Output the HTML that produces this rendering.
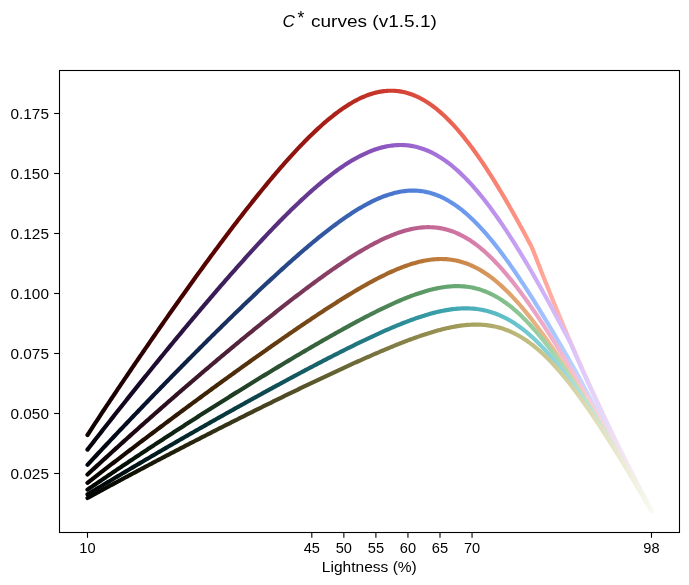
<!DOCTYPE html>
<html><head><meta charset="utf-8"><style>
html,body{margin:0;padding:0;background:#fff;}
body{width:689px;height:585px;overflow:hidden;}
svg{display:block;font-family:"Liberation Sans",sans-serif;}
text{-webkit-font-smoothing:antialiased;}
.gs{filter:grayscale(1);}
</style></head><body>
<svg width="689" height="585" viewBox="0 0 689 585">
<defs><linearGradient id="g0" gradientUnits="userSpaceOnUse" x1="87.50" y1="0" x2="651.49" y2="0"><stop offset="0.0000" stop-color="#0d0000"/><stop offset="0.0114" stop-color="#100000"/><stop offset="0.0227" stop-color="#140000"/><stop offset="0.0341" stop-color="#180000"/><stop offset="0.0455" stop-color="#1b0000"/><stop offset="0.0568" stop-color="#1f0000"/><stop offset="0.0682" stop-color="#230000"/><stop offset="0.0795" stop-color="#260000"/><stop offset="0.0909" stop-color="#2a0000"/><stop offset="0.1023" stop-color="#2e0000"/><stop offset="0.1136" stop-color="#320000"/><stop offset="0.1250" stop-color="#360101"/><stop offset="0.1364" stop-color="#3a0101"/><stop offset="0.1477" stop-color="#3e0101"/><stop offset="0.1591" stop-color="#420101"/><stop offset="0.1705" stop-color="#460201"/><stop offset="0.1818" stop-color="#4a0201"/><stop offset="0.1932" stop-color="#4f0202"/><stop offset="0.2045" stop-color="#530302"/><stop offset="0.2159" stop-color="#570302"/><stop offset="0.2273" stop-color="#5b0403"/><stop offset="0.2386" stop-color="#600503"/><stop offset="0.2500" stop-color="#640604"/><stop offset="0.2614" stop-color="#680704"/><stop offset="0.2727" stop-color="#6d0805"/><stop offset="0.2841" stop-color="#710906"/><stop offset="0.2955" stop-color="#750a07"/><stop offset="0.3068" stop-color="#7a0c08"/><stop offset="0.3182" stop-color="#7e0e09"/><stop offset="0.3295" stop-color="#830f0a"/><stop offset="0.3409" stop-color="#87110c"/><stop offset="0.3523" stop-color="#8b130d"/><stop offset="0.3636" stop-color="#90140e"/><stop offset="0.3750" stop-color="#941610"/><stop offset="0.3864" stop-color="#981812"/><stop offset="0.3977" stop-color="#9d1a13"/><stop offset="0.4091" stop-color="#a11d15"/><stop offset="0.4205" stop-color="#a61f17"/><stop offset="0.4318" stop-color="#aa2119"/><stop offset="0.4432" stop-color="#ae241b"/><stop offset="0.4545" stop-color="#b2261d"/><stop offset="0.4659" stop-color="#b6291f"/><stop offset="0.4773" stop-color="#ba2c22"/><stop offset="0.4886" stop-color="#be2f24"/><stop offset="0.5000" stop-color="#c23227"/><stop offset="0.5114" stop-color="#c6352a"/><stop offset="0.5227" stop-color="#ca382d"/><stop offset="0.5341" stop-color="#ce3c30"/><stop offset="0.5455" stop-color="#d13f33"/><stop offset="0.5568" stop-color="#d44336"/><stop offset="0.5682" stop-color="#d84739"/><stop offset="0.5795" stop-color="#db4b3d"/><stop offset="0.5909" stop-color="#de4f41"/><stop offset="0.6023" stop-color="#e15344"/><stop offset="0.6136" stop-color="#e45748"/><stop offset="0.6250" stop-color="#e65b4c"/><stop offset="0.6364" stop-color="#e96050"/><stop offset="0.6477" stop-color="#eb6455"/><stop offset="0.6591" stop-color="#ee6959"/><stop offset="0.6705" stop-color="#f06d5d"/><stop offset="0.6818" stop-color="#f27262"/><stop offset="0.6932" stop-color="#f47666"/><stop offset="0.7045" stop-color="#f57b6b"/><stop offset="0.7159" stop-color="#f78070"/><stop offset="0.7273" stop-color="#f88475"/><stop offset="0.7386" stop-color="#fa8979"/><stop offset="0.7500" stop-color="#fb8e7e"/><stop offset="0.7614" stop-color="#fc9283"/><stop offset="0.7727" stop-color="#fe9788"/><stop offset="0.7841" stop-color="#ff9c8d"/><stop offset="0.7955" stop-color="#ffa193"/><stop offset="0.8068" stop-color="#ffa699"/><stop offset="0.8182" stop-color="#ffab9e"/><stop offset="0.8295" stop-color="#ffb0a4"/><stop offset="0.8409" stop-color="#ffb5aa"/><stop offset="0.8523" stop-color="#ffbaaf"/><stop offset="0.8636" stop-color="#ffbfb5"/><stop offset="0.8750" stop-color="#ffc4ba"/><stop offset="0.8864" stop-color="#ffc8c0"/><stop offset="0.8977" stop-color="#ffcdc5"/><stop offset="0.9091" stop-color="#ffd2ca"/><stop offset="0.9205" stop-color="#ffd6d0"/><stop offset="0.9318" stop-color="#ffdbd5"/><stop offset="0.9432" stop-color="#ffe0da"/><stop offset="0.9545" stop-color="#ffe4e0"/><stop offset="0.9659" stop-color="#ffe9e5"/><stop offset="0.9773" stop-color="#ffedea"/><stop offset="0.9886" stop-color="#fff2ef"/><stop offset="1.0000" stop-color="#fff6f5"/></linearGradient><linearGradient id="g1" gradientUnits="userSpaceOnUse" x1="87.50" y1="0" x2="651.49" y2="0"><stop offset="0.0000" stop-color="#05010c"/><stop offset="0.0114" stop-color="#07020f"/><stop offset="0.0227" stop-color="#090212"/><stop offset="0.0341" stop-color="#0b0315"/><stop offset="0.0455" stop-color="#0e0419"/><stop offset="0.0568" stop-color="#10051c"/><stop offset="0.0682" stop-color="#130620"/><stop offset="0.0795" stop-color="#160723"/><stop offset="0.0909" stop-color="#180827"/><stop offset="0.1023" stop-color="#1b092b"/><stop offset="0.1136" stop-color="#1d0b2e"/><stop offset="0.1250" stop-color="#200d32"/><stop offset="0.1364" stop-color="#230e36"/><stop offset="0.1477" stop-color="#26103a"/><stop offset="0.1591" stop-color="#29123e"/><stop offset="0.1705" stop-color="#2b1341"/><stop offset="0.1818" stop-color="#2e1545"/><stop offset="0.1932" stop-color="#311749"/><stop offset="0.2045" stop-color="#34194d"/><stop offset="0.2159" stop-color="#371a51"/><stop offset="0.2273" stop-color="#3a1c55"/><stop offset="0.2386" stop-color="#3d1e59"/><stop offset="0.2500" stop-color="#40205d"/><stop offset="0.2614" stop-color="#432262"/><stop offset="0.2727" stop-color="#462466"/><stop offset="0.2841" stop-color="#49266a"/><stop offset="0.2955" stop-color="#4c286e"/><stop offset="0.3068" stop-color="#4f2a72"/><stop offset="0.3182" stop-color="#522c76"/><stop offset="0.3295" stop-color="#552e7a"/><stop offset="0.3409" stop-color="#58307f"/><stop offset="0.3523" stop-color="#5c3283"/><stop offset="0.3636" stop-color="#5f3487"/><stop offset="0.3750" stop-color="#62368b"/><stop offset="0.3864" stop-color="#65388f"/><stop offset="0.3977" stop-color="#683b93"/><stop offset="0.4091" stop-color="#6b3d98"/><stop offset="0.4205" stop-color="#6f3f9c"/><stop offset="0.4318" stop-color="#7242a0"/><stop offset="0.4432" stop-color="#7544a4"/><stop offset="0.4545" stop-color="#7846a8"/><stop offset="0.4659" stop-color="#7b49ac"/><stop offset="0.4773" stop-color="#7e4cb0"/><stop offset="0.4886" stop-color="#824eb4"/><stop offset="0.5000" stop-color="#8551b7"/><stop offset="0.5114" stop-color="#8854bb"/><stop offset="0.5227" stop-color="#8b56bf"/><stop offset="0.5341" stop-color="#8e59c2"/><stop offset="0.5455" stop-color="#915cc6"/><stop offset="0.5568" stop-color="#945fc9"/><stop offset="0.5682" stop-color="#9762cc"/><stop offset="0.5795" stop-color="#9a66cf"/><stop offset="0.5909" stop-color="#9d69d2"/><stop offset="0.6023" stop-color="#a06cd5"/><stop offset="0.6136" stop-color="#a36fd8"/><stop offset="0.6250" stop-color="#a673db"/><stop offset="0.6364" stop-color="#a976dd"/><stop offset="0.6477" stop-color="#ab7ae0"/><stop offset="0.6591" stop-color="#ae7ee2"/><stop offset="0.6705" stop-color="#b181e4"/><stop offset="0.6818" stop-color="#b485e6"/><stop offset="0.6932" stop-color="#b689e8"/><stop offset="0.7045" stop-color="#b98dea"/><stop offset="0.7159" stop-color="#bc91ec"/><stop offset="0.7273" stop-color="#be94ed"/><stop offset="0.7386" stop-color="#c198ef"/><stop offset="0.7500" stop-color="#c39cf0"/><stop offset="0.7614" stop-color="#c6a0f1"/><stop offset="0.7727" stop-color="#c8a4f3"/><stop offset="0.7841" stop-color="#cba8f4"/><stop offset="0.7955" stop-color="#cdacf5"/><stop offset="0.8068" stop-color="#d0b1f6"/><stop offset="0.8182" stop-color="#d2b5f7"/><stop offset="0.8295" stop-color="#d5b9f7"/><stop offset="0.8409" stop-color="#d7bdf8"/><stop offset="0.8523" stop-color="#dac1f9"/><stop offset="0.8636" stop-color="#dcc5f9"/><stop offset="0.8750" stop-color="#dfc9fa"/><stop offset="0.8864" stop-color="#e1cefa"/><stop offset="0.8977" stop-color="#e3d2fa"/><stop offset="0.9091" stop-color="#e6d6fa"/><stop offset="0.9205" stop-color="#e8dafb"/><stop offset="0.9318" stop-color="#ebdefb"/><stop offset="0.9432" stop-color="#ede2fb"/><stop offset="0.9545" stop-color="#f0e7fc"/><stop offset="0.9659" stop-color="#f2ebfc"/><stop offset="0.9773" stop-color="#f5effd"/><stop offset="0.9886" stop-color="#f7f3fd"/><stop offset="1.0000" stop-color="#faf7fe"/></linearGradient><linearGradient id="g2" gradientUnits="userSpaceOnUse" x1="87.50" y1="0" x2="651.49" y2="0"><stop offset="0.0000" stop-color="#01030c"/><stop offset="0.0114" stop-color="#01040f"/><stop offset="0.0227" stop-color="#020512"/><stop offset="0.0341" stop-color="#020716"/><stop offset="0.0455" stop-color="#020819"/><stop offset="0.0568" stop-color="#030a1d"/><stop offset="0.0682" stop-color="#040c21"/><stop offset="0.0795" stop-color="#040e24"/><stop offset="0.0909" stop-color="#051028"/><stop offset="0.1023" stop-color="#06132c"/><stop offset="0.1136" stop-color="#07152f"/><stop offset="0.1250" stop-color="#081733"/><stop offset="0.1364" stop-color="#0a1937"/><stop offset="0.1477" stop-color="#0b1b3b"/><stop offset="0.1591" stop-color="#0c1e3f"/><stop offset="0.1705" stop-color="#0e2043"/><stop offset="0.1818" stop-color="#0f2247"/><stop offset="0.1932" stop-color="#11254b"/><stop offset="0.2045" stop-color="#12274f"/><stop offset="0.2159" stop-color="#142953"/><stop offset="0.2273" stop-color="#152c57"/><stop offset="0.2386" stop-color="#172e5b"/><stop offset="0.2500" stop-color="#183160"/><stop offset="0.2614" stop-color="#1a3364"/><stop offset="0.2727" stop-color="#1b3668"/><stop offset="0.2841" stop-color="#1d386c"/><stop offset="0.2955" stop-color="#1e3b71"/><stop offset="0.3068" stop-color="#203d75"/><stop offset="0.3182" stop-color="#224079"/><stop offset="0.3295" stop-color="#23427d"/><stop offset="0.3409" stop-color="#254582"/><stop offset="0.3523" stop-color="#274786"/><stop offset="0.3636" stop-color="#294a8a"/><stop offset="0.3750" stop-color="#2a4d8f"/><stop offset="0.3864" stop-color="#2c4f93"/><stop offset="0.3977" stop-color="#2e5298"/><stop offset="0.4091" stop-color="#30559c"/><stop offset="0.4205" stop-color="#3258a0"/><stop offset="0.4318" stop-color="#345aa5"/><stop offset="0.4432" stop-color="#365da9"/><stop offset="0.4545" stop-color="#3860ad"/><stop offset="0.4659" stop-color="#3a63b1"/><stop offset="0.4773" stop-color="#3c66b6"/><stop offset="0.4886" stop-color="#3e69ba"/><stop offset="0.5000" stop-color="#406bbe"/><stop offset="0.5114" stop-color="#436ec2"/><stop offset="0.5227" stop-color="#4571c6"/><stop offset="0.5341" stop-color="#4774ca"/><stop offset="0.5455" stop-color="#4a77cd"/><stop offset="0.5568" stop-color="#4c7ad1"/><stop offset="0.5682" stop-color="#4f7dd5"/><stop offset="0.5795" stop-color="#5280d8"/><stop offset="0.5909" stop-color="#5584db"/><stop offset="0.6023" stop-color="#5887de"/><stop offset="0.6136" stop-color="#5b8ae1"/><stop offset="0.6250" stop-color="#5f8de4"/><stop offset="0.6364" stop-color="#6290e7"/><stop offset="0.6477" stop-color="#6593e9"/><stop offset="0.6591" stop-color="#6997ec"/><stop offset="0.6705" stop-color="#6d9aee"/><stop offset="0.6818" stop-color="#719df0"/><stop offset="0.6932" stop-color="#75a0f1"/><stop offset="0.7045" stop-color="#79a4f3"/><stop offset="0.7159" stop-color="#7da7f5"/><stop offset="0.7273" stop-color="#81aaf6"/><stop offset="0.7386" stop-color="#86aef7"/><stop offset="0.7500" stop-color="#8ab1f8"/><stop offset="0.7614" stop-color="#8eb4f9"/><stop offset="0.7727" stop-color="#93b8fa"/><stop offset="0.7841" stop-color="#98bbfb"/><stop offset="0.7955" stop-color="#9cbefc"/><stop offset="0.8068" stop-color="#a1c2fc"/><stop offset="0.8182" stop-color="#a6c5fd"/><stop offset="0.8295" stop-color="#aac8fe"/><stop offset="0.8409" stop-color="#afcbfe"/><stop offset="0.8523" stop-color="#b4cffe"/><stop offset="0.8636" stop-color="#b9d2ff"/><stop offset="0.8750" stop-color="#bed5ff"/><stop offset="0.8864" stop-color="#c3d8ff"/><stop offset="0.8977" stop-color="#c8dcff"/><stop offset="0.9091" stop-color="#cddfff"/><stop offset="0.9205" stop-color="#d2e2ff"/><stop offset="0.9318" stop-color="#d7e5ff"/><stop offset="0.9432" stop-color="#dce9ff"/><stop offset="0.9545" stop-color="#e1ecff"/><stop offset="0.9659" stop-color="#e6efff"/><stop offset="0.9773" stop-color="#ebf2ff"/><stop offset="0.9886" stop-color="#f0f5ff"/><stop offset="1.0000" stop-color="#f5f9ff"/></linearGradient><linearGradient id="g3" gradientUnits="userSpaceOnUse" x1="87.50" y1="0" x2="651.49" y2="0"><stop offset="0.0000" stop-color="#080104"/><stop offset="0.0114" stop-color="#0b0205"/><stop offset="0.0227" stop-color="#0d0207"/><stop offset="0.0341" stop-color="#100309"/><stop offset="0.0455" stop-color="#13040b"/><stop offset="0.0568" stop-color="#16050d"/><stop offset="0.0682" stop-color="#190610"/><stop offset="0.0795" stop-color="#1c0712"/><stop offset="0.0909" stop-color="#1f0814"/><stop offset="0.1023" stop-color="#220a17"/><stop offset="0.1136" stop-color="#260b19"/><stop offset="0.1250" stop-color="#290d1c"/><stop offset="0.1364" stop-color="#2c0f1e"/><stop offset="0.1477" stop-color="#2f1021"/><stop offset="0.1591" stop-color="#331223"/><stop offset="0.1705" stop-color="#361426"/><stop offset="0.1818" stop-color="#3a1628"/><stop offset="0.1932" stop-color="#3d172b"/><stop offset="0.2045" stop-color="#40192d"/><stop offset="0.2159" stop-color="#441b30"/><stop offset="0.2273" stop-color="#471d33"/><stop offset="0.2386" stop-color="#4b1e35"/><stop offset="0.2500" stop-color="#4e2038"/><stop offset="0.2614" stop-color="#52223b"/><stop offset="0.2727" stop-color="#56243e"/><stop offset="0.2841" stop-color="#592641"/><stop offset="0.2955" stop-color="#5d2843"/><stop offset="0.3068" stop-color="#612a46"/><stop offset="0.3182" stop-color="#642c49"/><stop offset="0.3295" stop-color="#682e4c"/><stop offset="0.3409" stop-color="#6c304f"/><stop offset="0.3523" stop-color="#6f3252"/><stop offset="0.3636" stop-color="#733454"/><stop offset="0.3750" stop-color="#773657"/><stop offset="0.3864" stop-color="#7b385a"/><stop offset="0.3977" stop-color="#7e3a5d"/><stop offset="0.4091" stop-color="#823c60"/><stop offset="0.4205" stop-color="#863e63"/><stop offset="0.4318" stop-color="#8a4166"/><stop offset="0.4432" stop-color="#8e4369"/><stop offset="0.4545" stop-color="#92456c"/><stop offset="0.4659" stop-color="#95476f"/><stop offset="0.4773" stop-color="#994a72"/><stop offset="0.4886" stop-color="#9d4c75"/><stop offset="0.5000" stop-color="#a14e78"/><stop offset="0.5114" stop-color="#a5517b"/><stop offset="0.5227" stop-color="#a8537e"/><stop offset="0.5341" stop-color="#ac5682"/><stop offset="0.5455" stop-color="#b05885"/><stop offset="0.5568" stop-color="#b35b88"/><stop offset="0.5682" stop-color="#b75e8b"/><stop offset="0.5795" stop-color="#ba608e"/><stop offset="0.5909" stop-color="#be6391"/><stop offset="0.6023" stop-color="#c16694"/><stop offset="0.6136" stop-color="#c56997"/><stop offset="0.6250" stop-color="#c86c9a"/><stop offset="0.6364" stop-color="#cb709d"/><stop offset="0.6477" stop-color="#ce73a0"/><stop offset="0.6591" stop-color="#d176a3"/><stop offset="0.6705" stop-color="#d47aa6"/><stop offset="0.6818" stop-color="#d67ea9"/><stop offset="0.6932" stop-color="#d981ac"/><stop offset="0.7045" stop-color="#dc85af"/><stop offset="0.7159" stop-color="#de89b2"/><stop offset="0.7273" stop-color="#e08db5"/><stop offset="0.7386" stop-color="#e291b8"/><stop offset="0.7500" stop-color="#e495bb"/><stop offset="0.7614" stop-color="#e699bd"/><stop offset="0.7727" stop-color="#e89dc0"/><stop offset="0.7841" stop-color="#eaa1c3"/><stop offset="0.7955" stop-color="#eba6c6"/><stop offset="0.8068" stop-color="#edaac9"/><stop offset="0.8182" stop-color="#eeaecc"/><stop offset="0.8295" stop-color="#f0b3cf"/><stop offset="0.8409" stop-color="#f1b7d1"/><stop offset="0.8523" stop-color="#f2bcd4"/><stop offset="0.8636" stop-color="#f4c0d7"/><stop offset="0.8750" stop-color="#f5c4da"/><stop offset="0.8864" stop-color="#f6c9dd"/><stop offset="0.8977" stop-color="#f7cde0"/><stop offset="0.9091" stop-color="#f8d2e2"/><stop offset="0.9205" stop-color="#f9d6e5"/><stop offset="0.9318" stop-color="#fadbe8"/><stop offset="0.9432" stop-color="#fbdfeb"/><stop offset="0.9545" stop-color="#fbe4ee"/><stop offset="0.9659" stop-color="#fce8f1"/><stop offset="0.9773" stop-color="#fdedf4"/><stop offset="0.9886" stop-color="#fdf1f6"/><stop offset="1.0000" stop-color="#fef6f9"/></linearGradient><linearGradient id="g4" gradientUnits="userSpaceOnUse" x1="87.50" y1="0" x2="651.49" y2="0"><stop offset="0.0000" stop-color="#070200"/><stop offset="0.0114" stop-color="#090300"/><stop offset="0.0227" stop-color="#0c0400"/><stop offset="0.0341" stop-color="#0f0500"/><stop offset="0.0455" stop-color="#120601"/><stop offset="0.0568" stop-color="#140801"/><stop offset="0.0682" stop-color="#170901"/><stop offset="0.0795" stop-color="#1a0b01"/><stop offset="0.0909" stop-color="#1d0d01"/><stop offset="0.1023" stop-color="#200f02"/><stop offset="0.1136" stop-color="#231102"/><stop offset="0.1250" stop-color="#261302"/><stop offset="0.1364" stop-color="#291503"/><stop offset="0.1477" stop-color="#2c1703"/><stop offset="0.1591" stop-color="#301903"/><stop offset="0.1705" stop-color="#331b04"/><stop offset="0.1818" stop-color="#361d04"/><stop offset="0.1932" stop-color="#391f05"/><stop offset="0.2045" stop-color="#3d2106"/><stop offset="0.2159" stop-color="#402406"/><stop offset="0.2273" stop-color="#432607"/><stop offset="0.2386" stop-color="#472808"/><stop offset="0.2500" stop-color="#4a2a09"/><stop offset="0.2614" stop-color="#4d2c0a"/><stop offset="0.2727" stop-color="#512f0b"/><stop offset="0.2841" stop-color="#54310c"/><stop offset="0.2955" stop-color="#58330d"/><stop offset="0.3068" stop-color="#5b350e"/><stop offset="0.3182" stop-color="#5f380f"/><stop offset="0.3295" stop-color="#623a10"/><stop offset="0.3409" stop-color="#663c12"/><stop offset="0.3523" stop-color="#6a3f13"/><stop offset="0.3636" stop-color="#6d4114"/><stop offset="0.3750" stop-color="#714415"/><stop offset="0.3864" stop-color="#744616"/><stop offset="0.3977" stop-color="#784818"/><stop offset="0.4091" stop-color="#7c4b19"/><stop offset="0.4205" stop-color="#7f4d1a"/><stop offset="0.4318" stop-color="#83501c"/><stop offset="0.4432" stop-color="#87521d"/><stop offset="0.4545" stop-color="#8a551f"/><stop offset="0.4659" stop-color="#8e5720"/><stop offset="0.4773" stop-color="#925a22"/><stop offset="0.4886" stop-color="#965d23"/><stop offset="0.5000" stop-color="#995f25"/><stop offset="0.5114" stop-color="#9d6227"/><stop offset="0.5227" stop-color="#a16429"/><stop offset="0.5341" stop-color="#a4672a"/><stop offset="0.5455" stop-color="#a86a2c"/><stop offset="0.5568" stop-color="#ac6d2f"/><stop offset="0.5682" stop-color="#af6f31"/><stop offset="0.5795" stop-color="#b37233"/><stop offset="0.5909" stop-color="#b67536"/><stop offset="0.6023" stop-color="#ba7839"/><stop offset="0.6136" stop-color="#bd7b3b"/><stop offset="0.6250" stop-color="#c07e3f"/><stop offset="0.6364" stop-color="#c48142"/><stop offset="0.6477" stop-color="#c78445"/><stop offset="0.6591" stop-color="#ca8749"/><stop offset="0.6705" stop-color="#cd8b4d"/><stop offset="0.6818" stop-color="#d08e51"/><stop offset="0.6932" stop-color="#d39155"/><stop offset="0.7045" stop-color="#d5955a"/><stop offset="0.7159" stop-color="#d8985e"/><stop offset="0.7273" stop-color="#da9c63"/><stop offset="0.7386" stop-color="#dd9f68"/><stop offset="0.7500" stop-color="#dfa36d"/><stop offset="0.7614" stop-color="#e1a673"/><stop offset="0.7727" stop-color="#e3aa78"/><stop offset="0.7841" stop-color="#e5ae7e"/><stop offset="0.7955" stop-color="#e7b283"/><stop offset="0.8068" stop-color="#e8b589"/><stop offset="0.8182" stop-color="#eab98f"/><stop offset="0.8295" stop-color="#ecbd95"/><stop offset="0.8409" stop-color="#edc19b"/><stop offset="0.8523" stop-color="#efc5a1"/><stop offset="0.8636" stop-color="#f0c8a7"/><stop offset="0.8750" stop-color="#f1ccad"/><stop offset="0.8864" stop-color="#f3d0b3"/><stop offset="0.8977" stop-color="#f4d4b9"/><stop offset="0.9091" stop-color="#f5d8c0"/><stop offset="0.9205" stop-color="#f6dcc6"/><stop offset="0.9318" stop-color="#f7e0cc"/><stop offset="0.9432" stop-color="#f9e4d2"/><stop offset="0.9545" stop-color="#fae8d9"/><stop offset="0.9659" stop-color="#fbebdf"/><stop offset="0.9773" stop-color="#fcefe5"/><stop offset="0.9886" stop-color="#fdf3ec"/><stop offset="1.0000" stop-color="#fef7f2"/></linearGradient><linearGradient id="g5" gradientUnits="userSpaceOnUse" x1="87.50" y1="0" x2="651.49" y2="0"><stop offset="0.0000" stop-color="#010402"/><stop offset="0.0114" stop-color="#020602"/><stop offset="0.0227" stop-color="#020803"/><stop offset="0.0341" stop-color="#030a03"/><stop offset="0.0455" stop-color="#030c04"/><stop offset="0.0568" stop-color="#040e05"/><stop offset="0.0682" stop-color="#051106"/><stop offset="0.0795" stop-color="#061308"/><stop offset="0.0909" stop-color="#071509"/><stop offset="0.1023" stop-color="#08180b"/><stop offset="0.1136" stop-color="#091a0c"/><stop offset="0.1250" stop-color="#0b1d0e"/><stop offset="0.1364" stop-color="#0d2010"/><stop offset="0.1477" stop-color="#0e2211"/><stop offset="0.1591" stop-color="#102513"/><stop offset="0.1705" stop-color="#112715"/><stop offset="0.1818" stop-color="#132a17"/><stop offset="0.1932" stop-color="#142d19"/><stop offset="0.2045" stop-color="#16301a"/><stop offset="0.2159" stop-color="#18321c"/><stop offset="0.2273" stop-color="#19351e"/><stop offset="0.2386" stop-color="#1b3820"/><stop offset="0.2500" stop-color="#1d3b22"/><stop offset="0.2614" stop-color="#1f3e24"/><stop offset="0.2727" stop-color="#204026"/><stop offset="0.2841" stop-color="#224328"/><stop offset="0.2955" stop-color="#24462a"/><stop offset="0.3068" stop-color="#26492c"/><stop offset="0.3182" stop-color="#284c2e"/><stop offset="0.3295" stop-color="#294f30"/><stop offset="0.3409" stop-color="#2b5232"/><stop offset="0.3523" stop-color="#2d5534"/><stop offset="0.3636" stop-color="#2f5836"/><stop offset="0.3750" stop-color="#315b38"/><stop offset="0.3864" stop-color="#335e3a"/><stop offset="0.3977" stop-color="#35613c"/><stop offset="0.4091" stop-color="#37643e"/><stop offset="0.4205" stop-color="#396740"/><stop offset="0.4318" stop-color="#3b6a42"/><stop offset="0.4432" stop-color="#3d6d45"/><stop offset="0.4545" stop-color="#3f7147"/><stop offset="0.4659" stop-color="#417449"/><stop offset="0.4773" stop-color="#43774b"/><stop offset="0.4886" stop-color="#457a4e"/><stop offset="0.5000" stop-color="#477d50"/><stop offset="0.5114" stop-color="#498052"/><stop offset="0.5227" stop-color="#4b8454"/><stop offset="0.5341" stop-color="#4e8757"/><stop offset="0.5455" stop-color="#508a59"/><stop offset="0.5568" stop-color="#528d5c"/><stop offset="0.5682" stop-color="#55905e"/><stop offset="0.5795" stop-color="#579461"/><stop offset="0.5909" stop-color="#5a9763"/><stop offset="0.6023" stop-color="#5c9a66"/><stop offset="0.6136" stop-color="#5f9d68"/><stop offset="0.6250" stop-color="#61a06b"/><stop offset="0.6364" stop-color="#64a46e"/><stop offset="0.6477" stop-color="#67a771"/><stop offset="0.6591" stop-color="#6aaa74"/><stop offset="0.6705" stop-color="#6dad77"/><stop offset="0.6818" stop-color="#71b07a"/><stop offset="0.6932" stop-color="#74b37d"/><stop offset="0.7045" stop-color="#78b680"/><stop offset="0.7159" stop-color="#7bb984"/><stop offset="0.7273" stop-color="#7fbc88"/><stop offset="0.7386" stop-color="#83bf8b"/><stop offset="0.7500" stop-color="#87c28f"/><stop offset="0.7614" stop-color="#8bc593"/><stop offset="0.7727" stop-color="#90c897"/><stop offset="0.7841" stop-color="#94ca9b"/><stop offset="0.7955" stop-color="#99cd9f"/><stop offset="0.8068" stop-color="#9ed0a4"/><stop offset="0.8182" stop-color="#a2d2a8"/><stop offset="0.8295" stop-color="#a7d5ad"/><stop offset="0.8409" stop-color="#acd8b1"/><stop offset="0.8523" stop-color="#b1dab6"/><stop offset="0.8636" stop-color="#b6ddba"/><stop offset="0.8750" stop-color="#bbdfbf"/><stop offset="0.8864" stop-color="#c0e2c4"/><stop offset="0.8977" stop-color="#c5e4c9"/><stop offset="0.9091" stop-color="#cbe7cd"/><stop offset="0.9205" stop-color="#d0e9d2"/><stop offset="0.9318" stop-color="#d5ecd7"/><stop offset="0.9432" stop-color="#daeedc"/><stop offset="0.9545" stop-color="#dff1e1"/><stop offset="0.9659" stop-color="#e5f3e6"/><stop offset="0.9773" stop-color="#eaf6eb"/><stop offset="0.9886" stop-color="#eff8f0"/><stop offset="1.0000" stop-color="#f4faf5"/></linearGradient><linearGradient id="g6" gradientUnits="userSpaceOnUse" x1="87.50" y1="0" x2="651.49" y2="0"><stop offset="0.0000" stop-color="#000405"/><stop offset="0.0114" stop-color="#000607"/><stop offset="0.0227" stop-color="#000709"/><stop offset="0.0341" stop-color="#00090b"/><stop offset="0.0455" stop-color="#000c0e"/><stop offset="0.0568" stop-color="#010e10"/><stop offset="0.0682" stop-color="#011012"/><stop offset="0.0795" stop-color="#011315"/><stop offset="0.0909" stop-color="#011518"/><stop offset="0.1023" stop-color="#01181a"/><stop offset="0.1136" stop-color="#011a1d"/><stop offset="0.1250" stop-color="#021d20"/><stop offset="0.1364" stop-color="#021f22"/><stop offset="0.1477" stop-color="#022225"/><stop offset="0.1591" stop-color="#032428"/><stop offset="0.1705" stop-color="#03272b"/><stop offset="0.1818" stop-color="#042a2d"/><stop offset="0.1932" stop-color="#042c30"/><stop offset="0.2045" stop-color="#052f33"/><stop offset="0.2159" stop-color="#053236"/><stop offset="0.2273" stop-color="#063539"/><stop offset="0.2386" stop-color="#07373c"/><stop offset="0.2500" stop-color="#083a3f"/><stop offset="0.2614" stop-color="#093d42"/><stop offset="0.2727" stop-color="#094045"/><stop offset="0.2841" stop-color="#0b4348"/><stop offset="0.2955" stop-color="#0c454b"/><stop offset="0.3068" stop-color="#0d484e"/><stop offset="0.3182" stop-color="#0e4b51"/><stop offset="0.3295" stop-color="#0f4e54"/><stop offset="0.3409" stop-color="#105158"/><stop offset="0.3523" stop-color="#11545b"/><stop offset="0.3636" stop-color="#13575e"/><stop offset="0.3750" stop-color="#145a61"/><stop offset="0.3864" stop-color="#155d64"/><stop offset="0.3977" stop-color="#166068"/><stop offset="0.4091" stop-color="#18636b"/><stop offset="0.4205" stop-color="#19666e"/><stop offset="0.4318" stop-color="#1a6971"/><stop offset="0.4432" stop-color="#1c6c75"/><stop offset="0.4545" stop-color="#1d7078"/><stop offset="0.4659" stop-color="#1f737b"/><stop offset="0.4773" stop-color="#20767e"/><stop offset="0.4886" stop-color="#227982"/><stop offset="0.5000" stop-color="#237c85"/><stop offset="0.5114" stop-color="#257f88"/><stop offset="0.5227" stop-color="#27828c"/><stop offset="0.5341" stop-color="#28868f"/><stop offset="0.5455" stop-color="#2a8993"/><stop offset="0.5568" stop-color="#2c8c96"/><stop offset="0.5682" stop-color="#2e8f99"/><stop offset="0.5795" stop-color="#30929d"/><stop offset="0.5909" stop-color="#3396a0"/><stop offset="0.6023" stop-color="#3599a3"/><stop offset="0.6136" stop-color="#389ca7"/><stop offset="0.6250" stop-color="#3a9faa"/><stop offset="0.6364" stop-color="#3da3ad"/><stop offset="0.6477" stop-color="#40a6b0"/><stop offset="0.6591" stop-color="#44a9b4"/><stop offset="0.6705" stop-color="#47acb7"/><stop offset="0.6818" stop-color="#4bafba"/><stop offset="0.6932" stop-color="#4fb2bd"/><stop offset="0.7045" stop-color="#53b5c0"/><stop offset="0.7159" stop-color="#57b9c3"/><stop offset="0.7273" stop-color="#5cbcc6"/><stop offset="0.7386" stop-color="#61bfc9"/><stop offset="0.7500" stop-color="#66c2cc"/><stop offset="0.7614" stop-color="#6bc4cf"/><stop offset="0.7727" stop-color="#71c7d1"/><stop offset="0.7841" stop-color="#76cad4"/><stop offset="0.7955" stop-color="#7ccdd6"/><stop offset="0.8068" stop-color="#82d0d9"/><stop offset="0.8182" stop-color="#88d3db"/><stop offset="0.8295" stop-color="#8fd5dd"/><stop offset="0.8409" stop-color="#95d8e0"/><stop offset="0.8523" stop-color="#9bdbe2"/><stop offset="0.8636" stop-color="#a2dde4"/><stop offset="0.8750" stop-color="#a8e0e6"/><stop offset="0.8864" stop-color="#afe2e8"/><stop offset="0.8977" stop-color="#b6e5ea"/><stop offset="0.9091" stop-color="#bce7ec"/><stop offset="0.9205" stop-color="#c3eaee"/><stop offset="0.9318" stop-color="#c9ecf0"/><stop offset="0.9432" stop-color="#d0eff2"/><stop offset="0.9545" stop-color="#d7f1f4"/><stop offset="0.9659" stop-color="#def3f6"/><stop offset="0.9773" stop-color="#e4f6f8"/><stop offset="0.9886" stop-color="#ebf8fa"/><stop offset="1.0000" stop-color="#f2fafb"/></linearGradient><linearGradient id="g7" gradientUnits="userSpaceOnUse" x1="87.50" y1="0" x2="651.49" y2="0"><stop offset="0.0000" stop-color="#040301"/><stop offset="0.0114" stop-color="#050501"/><stop offset="0.0227" stop-color="#060601"/><stop offset="0.0341" stop-color="#080802"/><stop offset="0.0455" stop-color="#0a0a02"/><stop offset="0.0568" stop-color="#0c0c03"/><stop offset="0.0682" stop-color="#0f0e03"/><stop offset="0.0795" stop-color="#111004"/><stop offset="0.0909" stop-color="#131205"/><stop offset="0.1023" stop-color="#161406"/><stop offset="0.1136" stop-color="#181707"/><stop offset="0.1250" stop-color="#1a1908"/><stop offset="0.1364" stop-color="#1d1b09"/><stop offset="0.1477" stop-color="#1f1e0a"/><stop offset="0.1591" stop-color="#22200b"/><stop offset="0.1705" stop-color="#24230d"/><stop offset="0.1818" stop-color="#27250e"/><stop offset="0.1932" stop-color="#292710"/><stop offset="0.2045" stop-color="#2c2a11"/><stop offset="0.2159" stop-color="#2e2c13"/><stop offset="0.2273" stop-color="#312f14"/><stop offset="0.2386" stop-color="#343216"/><stop offset="0.2500" stop-color="#363417"/><stop offset="0.2614" stop-color="#393719"/><stop offset="0.2727" stop-color="#3c391a"/><stop offset="0.2841" stop-color="#3e3c1c"/><stop offset="0.2955" stop-color="#413f1d"/><stop offset="0.3068" stop-color="#44411f"/><stop offset="0.3182" stop-color="#474420"/><stop offset="0.3295" stop-color="#494722"/><stop offset="0.3409" stop-color="#4c4924"/><stop offset="0.3523" stop-color="#4f4c25"/><stop offset="0.3636" stop-color="#524f27"/><stop offset="0.3750" stop-color="#555229"/><stop offset="0.3864" stop-color="#57542a"/><stop offset="0.3977" stop-color="#5a572c"/><stop offset="0.4091" stop-color="#5d5a2e"/><stop offset="0.4205" stop-color="#605d2f"/><stop offset="0.4318" stop-color="#636031"/><stop offset="0.4432" stop-color="#666333"/><stop offset="0.4545" stop-color="#696635"/><stop offset="0.4659" stop-color="#6c6837"/><stop offset="0.4773" stop-color="#6f6b38"/><stop offset="0.4886" stop-color="#726e3a"/><stop offset="0.5000" stop-color="#75713c"/><stop offset="0.5114" stop-color="#78743e"/><stop offset="0.5227" stop-color="#7b7740"/><stop offset="0.5341" stop-color="#7e7a42"/><stop offset="0.5455" stop-color="#817d44"/><stop offset="0.5568" stop-color="#848046"/><stop offset="0.5682" stop-color="#878348"/><stop offset="0.5795" stop-color="#8a864a"/><stop offset="0.5909" stop-color="#8d894c"/><stop offset="0.6023" stop-color="#908c4e"/><stop offset="0.6136" stop-color="#948f51"/><stop offset="0.6250" stop-color="#979253"/><stop offset="0.6364" stop-color="#9a9555"/><stop offset="0.6477" stop-color="#9d9858"/><stop offset="0.6591" stop-color="#a09c5a"/><stop offset="0.6705" stop-color="#a39f5d"/><stop offset="0.6818" stop-color="#a6a260"/><stop offset="0.6932" stop-color="#a9a563"/><stop offset="0.7045" stop-color="#aca866"/><stop offset="0.7159" stop-color="#b0ab6a"/><stop offset="0.7273" stop-color="#b3ae6d"/><stop offset="0.7386" stop-color="#b6b171"/><stop offset="0.7500" stop-color="#b9b475"/><stop offset="0.7614" stop-color="#bcb879"/><stop offset="0.7727" stop-color="#bfbb7d"/><stop offset="0.7841" stop-color="#c2be82"/><stop offset="0.7955" stop-color="#c5c186"/><stop offset="0.8068" stop-color="#c8c48b"/><stop offset="0.8182" stop-color="#cbc791"/><stop offset="0.8295" stop-color="#ceca96"/><stop offset="0.8409" stop-color="#d0ce9b"/><stop offset="0.8523" stop-color="#d3d1a1"/><stop offset="0.8636" stop-color="#d6d4a7"/><stop offset="0.8750" stop-color="#d9d7ad"/><stop offset="0.8864" stop-color="#dcdab3"/><stop offset="0.8977" stop-color="#dfddb9"/><stop offset="0.9091" stop-color="#e2e0bf"/><stop offset="0.9205" stop-color="#e5e3c5"/><stop offset="0.9318" stop-color="#e8e6cb"/><stop offset="0.9432" stop-color="#ebead1"/><stop offset="0.9545" stop-color="#ededd8"/><stop offset="0.9659" stop-color="#f0f0de"/><stop offset="0.9773" stop-color="#f3f3e5"/><stop offset="0.9886" stop-color="#f6f6eb"/><stop offset="1.0000" stop-color="#f9f9f2"/></linearGradient></defs>
<rect x="0" y="0" width="689" height="585" fill="#fff"/>
<g fill="none" stroke-width="4.17" stroke-linecap="round" stroke-linejoin="round"><path d="M87.50,435.01 L89.10,432.55 L90.70,430.10 L92.31,427.64 L93.91,425.18 L95.51,422.73 L97.11,420.27 L98.72,417.81 L100.32,415.35 L101.92,412.90 L103.52,410.50 L105.12,408.09 L106.73,405.69 L108.33,403.29 L109.93,400.89 L111.53,398.50 L113.14,396.11 L114.74,393.72 L116.34,391.33 L117.94,388.95 L119.55,386.57 L121.15,384.20 L122.75,381.82 L124.35,379.45 L125.95,377.08 L127.56,374.72 L129.16,372.36 L130.76,370.00 L132.36,367.64 L133.97,365.29 L135.57,362.94 L137.17,360.59 L138.77,358.24 L140.37,355.90 L141.98,353.56 L143.58,351.23 L145.18,348.90 L146.78,346.57 L148.39,344.24 L149.99,341.92 L151.59,339.60 L153.19,337.28 L154.79,334.97 L156.40,332.66 L158.00,330.36 L159.60,328.05 L161.20,325.75 L162.81,323.46 L164.41,321.16 L166.01,318.87 L167.61,316.59 L169.21,314.30 L170.82,312.02 L172.42,309.75 L174.02,307.48 L175.62,305.21 L177.23,302.94 L178.83,300.68 L180.43,298.42 L182.03,296.17 L183.63,293.92 L185.24,291.67 L186.84,289.43 L188.44,287.19 L190.04,284.96 L191.65,282.73 L193.25,280.50 L194.85,278.28 L196.45,276.06 L198.06,273.85 L199.66,271.64 L201.26,269.43 L202.86,267.23 L204.46,265.04 L206.07,262.84 L207.67,260.66 L209.27,258.48 L210.87,256.30 L212.48,254.13 L214.08,251.96 L215.68,249.79 L217.28,247.64 L218.88,245.48 L220.49,243.34 L222.09,241.19 L223.69,239.06 L225.29,236.93 L226.90,234.80 L228.50,232.68 L230.10,230.57 L231.70,228.46 L233.30,226.36 L234.91,224.26 L236.51,222.17 L238.11,220.09 L239.71,218.02 L241.32,215.95 L242.92,213.88 L244.52,211.83 L246.12,209.78 L247.72,207.74 L249.33,205.70 L250.93,203.68 L252.53,201.66 L254.13,199.65 L255.74,197.65 L257.34,195.65 L258.94,193.67 L260.54,191.69 L262.15,189.72 L263.75,187.76 L265.35,185.81 L266.95,183.87 L268.55,181.94 L270.16,180.02 L271.76,178.11 L273.36,176.21 L274.96,174.32 L276.57,172.44 L278.17,170.57 L279.77,168.71 L281.37,166.87 L282.97,165.03 L284.58,163.21 L286.18,161.41 L287.78,159.61 L289.38,157.83 L290.99,156.06 L292.59,154.30 L294.19,152.56 L295.79,150.84 L297.39,149.12 L299.00,147.43 L300.60,145.75 L302.20,144.08 L303.80,142.43 L305.41,140.80 L307.01,139.18 L308.61,137.59 L310.21,136.01 L311.81,134.44 L313.42,132.90 L315.02,131.38 L316.62,129.87 L318.22,128.39 L319.83,126.92 L321.43,125.48 L323.03,124.06 L324.63,122.66 L326.24,121.28 L327.84,119.93 L329.44,118.60 L331.04,117.29 L332.64,116.01 L334.25,114.75 L335.85,113.52 L337.45,112.31 L339.05,111.13 L340.66,109.98 L342.26,108.85 L343.86,107.76 L345.46,106.69 L347.06,105.65 L348.67,104.64 L350.27,103.66 L351.87,102.72 L353.47,101.80 L355.08,100.92 L356.68,100.07 L358.28,99.25 L359.88,98.47 L361.48,97.72 L363.09,97.00 L364.69,96.32 L366.29,95.68 L367.89,95.07 L369.50,94.50 L371.10,93.97 L372.70,93.48 L374.30,93.03 L375.90,92.61 L377.51,92.24 L379.11,91.90 L380.71,91.61 L382.31,91.35 L383.92,91.14 L385.52,90.97 L387.12,90.84 L388.72,90.76 L390.33,90.72 L391.93,90.72 L393.53,90.76 L395.13,90.85 L396.73,90.99 L398.34,91.17 L399.94,91.39 L401.54,91.66 L403.14,91.98 L404.75,92.34 L406.35,92.74 L407.95,93.20 L409.55,93.70 L411.15,94.24 L412.76,94.83 L414.36,95.47 L415.96,96.15 L417.56,96.89 L419.17,97.66 L420.77,98.49 L422.37,99.36 L423.97,100.27 L425.57,101.23 L427.18,102.24 L428.78,103.29 L430.38,104.39 L431.98,105.54 L433.59,106.73 L435.19,107.96 L436.79,109.24 L438.39,110.56 L440.00,111.93 L441.60,113.34 L443.20,114.79 L444.80,116.29 L446.40,117.83 L448.01,119.41 L449.61,121.03 L451.21,122.69 L452.81,124.40 L454.42,126.14 L456.02,127.92 L457.62,129.75 L459.22,131.61 L460.82,133.51 L462.43,135.44 L464.03,137.42 L465.63,139.43 L467.23,141.48 L468.84,143.56 L470.44,145.68 L472.04,147.83 L473.64,150.01 L475.24,152.23 L476.85,154.48 L478.45,156.76 L480.05,159.07 L481.65,161.42 L483.26,163.79 L484.86,166.20 L486.46,168.63 L488.06,171.09 L489.66,173.58 L491.27,176.10 L492.87,178.64 L494.47,181.21 L496.07,183.80 L497.68,186.42 L499.28,189.07 L500.88,191.74 L502.48,194.43 L504.08,197.14 L505.69,199.88 L507.29,202.63 L508.89,205.41 L510.49,208.21 L512.10,211.03 L513.70,213.87 L515.30,216.73 L516.90,219.61 L518.51,222.51 L520.11,225.42 L521.71,228.35 L523.31,231.30 L524.91,234.26 L526.52,237.25 L528.12,240.24 L529.72,243.25 L531.32,246.28 L532.93,249.82 L534.53,253.98 L536.13,258.12 L537.73,262.24 L539.33,266.34 L540.94,270.42 L542.54,274.48 L544.14,278.52 L545.74,282.54 L547.35,286.54 L548.95,290.52 L550.55,294.48 L552.15,298.42 L553.75,302.34 L555.36,306.24 L556.96,310.13 L558.56,313.99 L560.16,317.83 L561.77,321.66 L563.37,325.47 L564.97,329.26 L566.57,333.03 L568.17,336.78 L569.78,340.52 L571.38,344.24 L572.98,347.94 L574.58,351.62 L576.19,355.28 L577.79,358.93 L579.39,362.56 L580.99,366.17 L582.60,369.77 L584.20,373.35 L585.80,376.91 L587.40,380.46 L589.00,383.99 L590.61,387.50 L592.21,391.00 L593.81,394.48 L595.41,397.95 L597.02,401.40 L598.62,404.83 L600.22,408.25 L601.82,411.66 L603.42,415.04 L605.03,418.42 L606.63,421.77 L608.23,425.12 L609.83,428.44 L611.44,431.76 L613.04,435.06 L614.64,438.34 L616.24,441.61 L617.84,444.87 L619.45,448.11 L621.05,451.33 L622.65,454.55 L624.25,457.75 L625.86,460.93 L627.46,464.10 L629.06,467.26 L630.66,470.40 L632.26,473.54 L633.87,476.65 L635.47,479.76 L637.07,482.85 L638.67,485.93 L640.28,488.99 L641.88,492.05 L643.48,495.09 L645.08,498.12 L646.69,501.13 L648.29,504.13 L649.89,507.12 L651.49,510.10" stroke="url(#g0)"/><path d="M87.50,449.61 L89.10,447.55 L90.70,445.49 L92.31,443.43 L93.91,441.37 L95.51,439.32 L97.11,437.27 L98.72,435.22 L100.32,433.17 L101.92,431.12 L103.52,429.08 L105.12,427.04 L106.73,425.00 L108.33,422.96 L109.93,420.92 L111.53,418.89 L113.14,416.86 L114.74,414.83 L116.34,412.80 L117.94,410.77 L119.55,408.75 L121.15,406.73 L122.75,404.71 L124.35,402.69 L125.95,400.68 L127.56,398.67 L129.16,396.66 L130.76,394.65 L132.36,392.64 L133.97,390.64 L135.57,388.64 L137.17,386.64 L138.77,384.64 L140.37,382.65 L141.98,380.65 L143.58,378.66 L145.18,376.67 L146.78,374.69 L148.39,372.70 L149.99,370.72 L151.59,368.75 L153.19,366.77 L154.79,364.79 L156.40,362.82 L158.00,360.85 L159.60,358.89 L161.20,356.92 L162.81,354.96 L164.41,353.00 L166.01,351.05 L167.61,349.09 L169.21,347.14 L170.82,345.19 L172.42,343.25 L174.02,341.30 L175.62,339.36 L177.23,337.42 L178.83,335.49 L180.43,333.55 L182.03,331.62 L183.63,329.70 L185.24,327.77 L186.84,325.85 L188.44,323.93 L190.04,322.02 L191.65,320.10 L193.25,318.19 L194.85,316.29 L196.45,314.39 L198.06,312.48 L199.66,310.59 L201.26,308.69 L202.86,306.80 L204.46,304.92 L206.07,303.03 L207.67,301.15 L209.27,299.28 L210.87,297.40 L212.48,295.53 L214.08,293.67 L215.68,291.80 L217.28,289.95 L218.88,288.09 L220.49,286.24 L222.09,284.39 L223.69,282.55 L225.29,280.71 L226.90,278.88 L228.50,277.05 L230.10,275.22 L231.70,273.40 L233.30,271.58 L234.91,269.77 L236.51,267.96 L238.11,266.16 L239.71,264.36 L241.32,262.57 L242.92,260.78 L244.52,258.99 L246.12,257.22 L247.72,255.44 L249.33,253.68 L250.93,251.92 L252.53,250.16 L254.13,248.41 L255.74,246.67 L257.34,244.93 L258.94,243.20 L260.54,241.47 L262.15,239.75 L263.75,238.04 L265.35,236.33 L266.95,234.64 L268.55,232.94 L270.16,231.26 L271.76,229.58 L273.36,227.91 L274.96,226.25 L276.57,224.60 L278.17,222.95 L279.77,221.32 L281.37,219.69 L282.97,218.07 L284.58,216.46 L286.18,214.86 L287.78,213.27 L289.38,211.68 L290.99,210.11 L292.59,208.55 L294.19,206.99 L295.79,205.45 L297.39,203.92 L299.00,202.40 L300.60,200.89 L302.20,199.40 L303.80,197.91 L305.41,196.44 L307.01,194.98 L308.61,193.53 L310.21,192.10 L311.81,190.68 L313.42,189.27 L315.02,187.88 L316.62,186.50 L318.22,185.13 L319.83,183.78 L321.43,182.45 L323.03,181.13 L324.63,179.83 L326.24,178.55 L327.84,177.28 L329.44,176.03 L331.04,174.79 L332.64,173.58 L334.25,172.38 L335.85,171.21 L337.45,170.05 L339.05,168.91 L340.66,167.79 L342.26,166.70 L343.86,165.62 L345.46,164.57 L347.06,163.53 L348.67,162.52 L350.27,161.54 L351.87,160.57 L353.47,159.63 L355.08,158.72 L356.68,157.83 L358.28,156.97 L359.88,156.13 L361.48,155.31 L363.09,154.53 L364.69,153.77 L366.29,153.04 L367.89,152.34 L369.50,151.67 L371.10,151.02 L372.70,150.41 L374.30,149.83 L375.90,149.27 L377.51,148.75 L379.11,148.26 L380.71,147.81 L382.31,147.38 L383.92,146.99 L385.52,146.64 L387.12,146.31 L388.72,146.03 L390.33,145.77 L391.93,145.56 L393.53,145.37 L395.13,145.23 L396.73,145.12 L398.34,145.05 L399.94,145.02 L401.54,145.02 L403.14,145.06 L404.75,145.15 L406.35,145.27 L407.95,145.43 L409.55,145.62 L411.15,145.86 L412.76,146.14 L414.36,146.46 L415.96,146.82 L417.56,147.22 L419.17,147.66 L420.77,148.15 L422.37,148.67 L423.97,149.24 L425.57,149.84 L427.18,150.49 L428.78,151.18 L430.38,151.91 L431.98,152.69 L433.59,153.50 L435.19,154.36 L436.79,155.26 L438.39,156.20 L440.00,157.18 L441.60,158.20 L443.20,159.27 L444.80,160.37 L446.40,161.52 L448.01,162.70 L449.61,163.93 L451.21,165.20 L452.81,166.51 L454.42,167.86 L456.02,169.24 L457.62,170.67 L459.22,172.13 L460.82,173.64 L462.43,175.18 L464.03,176.76 L465.63,178.38 L467.23,180.03 L468.84,181.72 L470.44,183.45 L472.04,185.22 L473.64,187.01 L475.24,188.85 L476.85,190.72 L478.45,192.62 L480.05,194.56 L481.65,196.53 L483.26,198.53 L484.86,200.56 L486.46,202.63 L488.06,204.73 L489.66,206.85 L491.27,209.01 L492.87,211.20 L494.47,213.42 L496.07,215.66 L497.68,217.94 L499.28,220.24 L500.88,222.57 L502.48,224.92 L504.08,227.30 L505.69,229.71 L507.29,232.14 L508.89,234.60 L510.49,237.08 L512.10,239.58 L513.70,242.11 L515.30,244.66 L516.90,247.23 L518.51,249.83 L520.11,252.44 L521.71,255.08 L523.31,257.73 L524.91,260.41 L526.52,263.10 L528.12,265.81 L529.72,268.55 L531.32,271.30 L532.93,274.06 L534.53,276.85 L536.13,279.65 L537.73,282.47 L539.33,285.30 L540.94,288.15 L542.54,291.01 L544.14,293.89 L545.74,296.78 L547.35,299.69 L548.95,302.61 L550.55,305.54 L552.15,308.49 L553.75,311.45 L555.36,314.42 L556.96,317.40 L558.56,320.40 L560.16,323.40 L561.77,326.42 L563.37,329.45 L564.97,332.49 L566.57,335.53 L568.17,338.59 L569.78,341.66 L571.38,344.94 L572.98,348.64 L574.58,352.32 L576.19,355.98 L577.79,359.63 L579.39,363.26 L580.99,366.87 L582.60,370.47 L584.20,374.05 L585.80,377.61 L587.40,381.16 L589.00,384.69 L590.61,388.20 L592.21,391.70 L593.81,395.18 L595.41,398.65 L597.02,402.10 L598.62,405.53 L600.22,408.95 L601.82,412.36 L603.42,415.74 L605.03,419.12 L606.63,422.47 L608.23,425.82 L609.83,429.14 L611.44,432.46 L613.04,435.76 L614.64,439.04 L616.24,442.31 L617.84,445.57 L619.45,448.81 L621.05,452.03 L622.65,455.25 L624.25,458.45 L625.86,461.63 L627.46,464.80 L629.06,467.96 L630.66,471.10 L632.26,474.24 L633.87,477.35 L635.47,480.46 L637.07,483.55 L638.67,486.63 L640.28,489.69 L641.88,492.75 L643.48,495.79 L645.08,498.82 L646.69,501.83 L648.29,504.83 L649.89,507.82 L651.49,510.80" stroke="url(#g1)"/><path d="M87.50,464.81 L89.10,463.09 L90.70,461.37 L92.31,459.65 L93.91,457.94 L95.51,456.22 L97.11,454.51 L98.72,452.80 L100.32,451.09 L101.92,449.38 L103.52,447.67 L105.12,445.97 L106.73,444.26 L108.33,442.56 L109.93,440.86 L111.53,439.16 L113.14,437.47 L114.74,435.77 L116.34,434.08 L117.94,432.39 L119.55,430.69 L121.15,429.01 L122.75,427.32 L124.35,425.63 L125.95,423.95 L127.56,422.27 L129.16,420.59 L130.76,418.91 L132.36,417.23 L133.97,415.55 L135.57,413.88 L137.17,412.21 L138.77,410.53 L140.37,408.87 L141.98,407.20 L143.58,405.53 L145.18,403.87 L146.78,402.20 L148.39,400.54 L149.99,398.88 L151.59,397.23 L153.19,395.57 L154.79,393.92 L156.40,392.26 L158.00,390.61 L159.60,388.96 L161.20,387.32 L162.81,385.67 L164.41,384.03 L166.01,382.38 L167.61,380.74 L169.21,379.10 L170.82,377.47 L172.42,375.83 L174.02,374.20 L175.62,372.57 L177.23,370.94 L178.83,369.31 L180.43,367.68 L182.03,366.06 L183.63,364.44 L185.24,362.81 L186.84,361.20 L188.44,359.58 L190.04,357.96 L191.65,356.35 L193.25,354.74 L194.85,353.13 L196.45,351.52 L198.06,349.92 L199.66,348.31 L201.26,346.71 L202.86,345.11 L204.46,343.51 L206.07,341.92 L207.67,340.32 L209.27,338.73 L210.87,337.14 L212.48,335.56 L214.08,333.97 L215.68,332.39 L217.28,330.81 L218.88,329.23 L220.49,327.65 L222.09,326.08 L223.69,324.51 L225.29,322.94 L226.90,321.37 L228.50,319.81 L230.10,318.24 L231.70,316.69 L233.30,315.13 L234.91,313.57 L236.51,312.02 L238.11,310.47 L239.71,308.93 L241.32,307.38 L242.92,305.84 L244.52,304.30 L246.12,302.77 L247.72,301.23 L249.33,299.70 L250.93,298.18 L252.53,296.65 L254.13,295.13 L255.74,293.62 L257.34,292.10 L258.94,290.59 L260.54,289.08 L262.15,287.58 L263.75,286.08 L265.35,284.58 L266.95,283.09 L268.55,281.60 L270.16,280.12 L271.76,278.64 L273.36,277.16 L274.96,275.69 L276.57,274.22 L278.17,272.75 L279.77,271.29 L281.37,269.84 L282.97,268.39 L284.58,266.94 L286.18,265.50 L287.78,264.07 L289.38,262.64 L290.99,261.21 L292.59,259.79 L294.19,258.38 L295.79,256.97 L297.39,255.57 L299.00,254.17 L300.60,252.78 L302.20,251.40 L303.80,250.03 L305.41,248.66 L307.01,247.30 L308.61,245.94 L310.21,244.59 L311.81,243.25 L313.42,241.92 L315.02,240.60 L316.62,239.28 L318.22,237.98 L319.83,236.68 L321.43,235.39 L323.03,234.12 L324.63,232.85 L326.24,231.59 L327.84,230.34 L329.44,229.10 L331.04,227.88 L332.64,226.66 L334.25,225.46 L335.85,224.27 L337.45,223.09 L339.05,221.93 L340.66,220.77 L342.26,219.63 L343.86,218.51 L345.46,217.40 L347.06,216.30 L348.67,215.22 L350.27,214.16 L351.87,213.11 L353.47,212.08 L355.08,211.06 L356.68,210.06 L358.28,209.08 L359.88,208.12 L361.48,207.18 L363.09,206.26 L364.69,205.36 L366.29,204.48 L367.89,203.62 L369.50,202.78 L371.10,201.96 L372.70,201.17 L374.30,200.40 L375.90,199.66 L377.51,198.94 L379.11,198.24 L380.71,197.57 L382.31,196.93 L383.92,196.31 L385.52,195.73 L387.12,195.17 L388.72,194.64 L390.33,194.14 L391.93,193.67 L393.53,193.23 L395.13,192.82 L396.73,192.45 L398.34,192.11 L399.94,191.80 L401.54,191.52 L403.14,191.28 L404.75,191.08 L406.35,190.91 L407.95,190.77 L409.55,190.68 L411.15,190.62 L412.76,190.60 L414.36,190.62 L415.96,190.67 L417.56,190.77 L419.17,190.91 L420.77,191.08 L422.37,191.30 L423.97,191.55 L425.57,191.85 L427.18,192.19 L428.78,192.58 L430.38,193.00 L431.98,193.47 L433.59,193.98 L435.19,194.53 L436.79,195.12 L438.39,195.76 L440.00,196.44 L441.60,197.17 L443.20,197.94 L444.80,198.75 L446.40,199.60 L448.01,200.50 L449.61,201.44 L451.21,202.42 L452.81,203.45 L454.42,204.51 L456.02,205.62 L457.62,206.77 L459.22,207.97 L460.82,209.20 L462.43,210.48 L464.03,211.80 L465.63,213.15 L467.23,214.55 L468.84,215.99 L470.44,217.46 L472.04,218.97 L473.64,220.53 L475.24,222.11 L476.85,223.74 L478.45,225.40 L480.05,227.10 L481.65,228.83 L483.26,230.60 L484.86,232.40 L486.46,234.24 L488.06,236.11 L489.66,238.01 L491.27,239.94 L492.87,241.90 L494.47,243.89 L496.07,245.91 L497.68,247.96 L499.28,250.04 L500.88,252.15 L502.48,254.29 L504.08,256.45 L505.69,258.63 L507.29,260.85 L508.89,263.08 L510.49,265.34 L512.10,267.63 L513.70,269.93 L515.30,272.26 L516.90,274.61 L518.51,276.98 L520.11,279.37 L521.71,281.78 L523.31,284.21 L524.91,286.66 L526.52,289.13 L528.12,291.61 L529.72,294.11 L531.32,296.63 L532.93,299.17 L534.53,301.72 L536.13,304.28 L537.73,306.86 L539.33,309.46 L540.94,312.07 L542.54,314.69 L544.14,317.32 L545.74,319.97 L547.35,322.63 L548.95,325.30 L550.55,327.98 L552.15,330.67 L553.75,333.38 L555.36,336.09 L556.96,338.81 L558.56,341.55 L560.16,344.29 L561.77,347.04 L563.37,349.80 L564.97,352.57 L566.57,355.35 L568.17,358.13 L569.78,360.93 L571.38,363.73 L572.98,366.53 L574.58,369.35 L576.19,372.17 L577.79,374.99 L579.39,377.84 L580.99,380.93 L582.60,384.01 L584.20,387.09 L585.80,390.16 L587.40,393.22 L589.00,396.28 L590.61,399.33 L592.21,402.37 L593.81,405.41 L595.41,408.45 L597.02,411.48 L598.62,414.50 L600.22,417.52 L601.82,420.53 L603.42,423.53 L605.03,426.53 L606.63,429.52 L608.23,432.51 L609.83,435.49 L611.44,438.47 L613.04,441.44 L614.64,444.40 L616.24,447.36 L617.84,450.31 L619.45,453.26 L621.05,456.20 L622.65,459.14 L624.25,462.07 L625.86,464.99 L627.46,467.91 L629.06,470.82 L630.66,473.73 L632.26,476.63 L633.87,479.53 L635.47,482.42 L637.07,485.30 L638.67,488.18 L640.28,491.06 L641.88,493.92 L643.48,496.79 L645.08,499.64 L646.69,502.49 L648.29,505.34 L649.89,508.18 L651.49,511.02" stroke="url(#g2)"/><path d="M87.50,474.50 L89.10,473.02 L90.70,471.55 L92.31,470.07 L93.91,468.60 L95.51,467.13 L97.11,465.66 L98.72,464.19 L100.32,462.73 L101.92,461.26 L103.52,459.80 L105.12,458.34 L106.73,456.88 L108.33,455.42 L109.93,453.96 L111.53,452.51 L113.14,451.05 L114.74,449.60 L116.34,448.15 L117.94,446.70 L119.55,445.25 L121.15,443.81 L122.75,442.36 L124.35,440.92 L125.95,439.48 L127.56,438.04 L129.16,436.60 L130.76,435.16 L132.36,433.73 L133.97,432.29 L135.57,430.86 L137.17,429.43 L138.77,428.00 L140.37,426.57 L141.98,425.15 L143.58,423.72 L145.18,422.30 L146.78,420.88 L148.39,419.46 L149.99,418.04 L151.59,416.63 L153.19,415.21 L154.79,413.80 L156.40,412.39 L158.00,410.98 L159.60,409.57 L161.20,408.16 L162.81,406.76 L164.41,405.35 L166.01,403.95 L167.61,402.55 L169.21,401.15 L170.82,399.76 L172.42,398.36 L174.02,396.97 L175.62,395.57 L177.23,394.18 L178.83,392.79 L180.43,391.41 L182.03,390.02 L183.63,388.64 L185.24,387.25 L186.84,385.87 L188.44,384.49 L190.04,383.12 L191.65,381.74 L193.25,380.37 L194.85,378.99 L196.45,377.62 L198.06,376.25 L199.66,374.89 L201.26,373.52 L202.86,372.16 L204.46,370.79 L206.07,369.43 L207.67,368.07 L209.27,366.72 L210.87,365.36 L212.48,364.01 L214.08,362.65 L215.68,361.30 L217.28,359.96 L218.88,358.61 L220.49,357.26 L222.09,355.92 L223.69,354.58 L225.29,353.24 L226.90,351.90 L228.50,350.57 L230.10,349.24 L231.70,347.90 L233.30,346.57 L234.91,345.25 L236.51,343.92 L238.11,342.60 L239.71,341.27 L241.32,339.95 L242.92,338.64 L244.52,337.32 L246.12,336.01 L247.72,334.69 L249.33,333.39 L250.93,332.08 L252.53,330.77 L254.13,329.47 L255.74,328.17 L257.34,326.87 L258.94,325.57 L260.54,324.28 L262.15,322.99 L263.75,321.70 L265.35,320.41 L266.95,319.13 L268.55,317.85 L270.16,316.57 L271.76,315.29 L273.36,314.02 L274.96,312.75 L276.57,311.48 L278.17,310.21 L279.77,308.95 L281.37,307.69 L282.97,306.43 L284.58,305.18 L286.18,303.93 L287.78,302.68 L289.38,301.44 L290.99,300.19 L292.59,298.96 L294.19,297.72 L295.79,296.49 L297.39,295.26 L299.00,294.04 L300.60,292.82 L302.20,291.60 L303.80,290.39 L305.41,289.18 L307.01,287.98 L308.61,286.78 L310.21,285.59 L311.81,284.40 L313.42,283.21 L315.02,282.03 L316.62,280.85 L318.22,279.68 L319.83,278.52 L321.43,277.36 L323.03,276.20 L324.63,275.05 L326.24,273.91 L327.84,272.77 L329.44,271.64 L331.04,270.51 L332.64,269.40 L334.25,268.28 L335.85,267.18 L337.45,266.08 L339.05,264.99 L340.66,263.91 L342.26,262.83 L343.86,261.77 L345.46,260.71 L347.06,259.66 L348.67,258.62 L350.27,257.59 L351.87,256.57 L353.47,255.56 L355.08,254.55 L356.68,253.56 L358.28,252.58 L359.88,251.61 L361.48,250.66 L363.09,249.71 L364.69,248.78 L366.29,247.86 L367.89,246.95 L369.50,246.05 L371.10,245.17 L372.70,244.31 L374.30,243.45 L375.90,242.62 L377.51,241.80 L379.11,240.99 L380.71,240.21 L382.31,239.44 L383.92,238.68 L385.52,237.95 L387.12,237.23 L388.72,236.54 L390.33,235.86 L391.93,235.20 L393.53,234.57 L395.13,233.95 L396.73,233.36 L398.34,232.80 L399.94,232.25 L401.54,231.73 L403.14,231.23 L404.75,230.76 L406.35,230.32 L407.95,229.90 L409.55,229.51 L411.15,229.15 L412.76,228.81 L414.36,228.51 L415.96,228.23 L417.56,227.99 L419.17,227.78 L420.77,227.60 L422.37,227.45 L423.97,227.33 L425.57,227.25 L427.18,227.20 L428.78,227.19 L430.38,227.21 L431.98,227.27 L433.59,227.37 L435.19,227.50 L436.79,227.67 L438.39,227.88 L440.00,228.13 L441.60,228.42 L443.20,228.74 L444.80,229.11 L446.40,229.51 L448.01,229.96 L449.61,230.45 L451.21,230.98 L452.81,231.55 L454.42,232.17 L456.02,232.82 L457.62,233.52 L459.22,234.26 L460.82,235.04 L462.43,235.86 L464.03,236.73 L465.63,237.64 L467.23,238.59 L468.84,239.58 L470.44,240.62 L472.04,241.70 L473.64,242.82 L475.24,243.98 L476.85,245.18 L478.45,246.42 L480.05,247.71 L481.65,249.03 L483.26,250.39 L484.86,251.80 L486.46,253.24 L488.06,254.72 L489.66,256.24 L491.27,257.79 L492.87,259.39 L494.47,261.02 L496.07,262.68 L497.68,264.38 L499.28,266.12 L500.88,267.89 L502.48,269.69 L504.08,271.53 L505.69,273.40 L507.29,275.30 L508.89,277.23 L510.49,279.19 L512.10,281.18 L513.70,283.20 L515.30,285.25 L516.90,287.32 L518.51,289.43 L520.11,291.55 L521.71,293.71 L523.31,295.89 L524.91,298.09 L526.52,300.32 L528.12,302.57 L529.72,304.84 L531.32,307.13 L532.93,309.45 L534.53,311.78 L536.13,314.14 L537.73,316.51 L539.33,318.91 L540.94,321.32 L542.54,323.75 L544.14,326.19 L545.74,328.65 L547.35,331.13 L548.95,333.63 L550.55,336.14 L552.15,338.66 L553.75,341.20 L555.36,343.75 L556.96,346.31 L558.56,348.89 L560.16,351.48 L561.77,354.08 L563.37,356.69 L564.97,359.31 L566.57,361.95 L568.17,364.59 L569.78,367.24 L571.38,369.91 L572.98,372.58 L574.58,375.26 L576.19,377.95 L577.79,380.65 L579.39,383.36 L580.99,386.07 L582.60,388.79 L584.20,391.52 L585.80,394.26 L587.40,397.00 L589.00,399.75 L590.61,402.50 L592.21,405.26 L593.81,408.03 L595.41,410.80 L597.02,413.58 L598.62,416.36 L600.22,419.15 L601.82,421.94 L603.42,424.73 L605.03,427.54 L606.63,430.34 L608.23,433.15 L609.83,435.96 L611.44,438.78 L613.04,441.60 L614.64,444.42 L616.24,447.25 L617.84,450.08 L619.45,452.91 L621.05,455.75 L622.65,458.59 L624.25,461.43 L625.86,464.27 L627.46,467.12 L629.06,469.97 L630.66,472.82 L632.26,475.67 L633.87,478.53 L635.47,481.39 L637.07,484.25 L638.67,487.11 L640.28,489.97 L641.88,492.84 L643.48,495.70 L645.08,498.57 L646.69,501.44 L648.29,504.32 L649.89,507.19 L651.49,510.06" stroke="url(#g3)"/><path d="M87.50,482.78 L89.10,481.54 L90.70,480.30 L92.31,479.05 L93.91,477.81 L95.51,476.57 L97.11,475.33 L98.72,474.09 L100.32,472.85 L101.92,471.62 L103.52,470.38 L105.12,469.15 L106.73,467.91 L108.33,466.68 L109.93,465.45 L111.53,464.22 L113.14,462.98 L114.74,461.76 L116.34,460.53 L117.94,459.30 L119.55,458.07 L121.15,456.85 L122.75,455.62 L124.35,454.40 L125.95,453.17 L127.56,451.95 L129.16,450.73 L130.76,449.51 L132.36,448.29 L133.97,447.07 L135.57,445.86 L137.17,444.64 L138.77,443.42 L140.37,442.21 L141.98,441.00 L143.58,439.78 L145.18,438.57 L146.78,437.36 L148.39,436.15 L149.99,434.94 L151.59,433.74 L153.19,432.53 L154.79,431.32 L156.40,430.12 L158.00,428.91 L159.60,427.71 L161.20,426.51 L162.81,425.31 L164.41,424.11 L166.01,422.91 L167.61,421.71 L169.21,420.51 L170.82,419.31 L172.42,418.12 L174.02,416.92 L175.62,415.73 L177.23,414.54 L178.83,413.35 L180.43,412.16 L182.03,410.97 L183.63,409.78 L185.24,408.59 L186.84,407.40 L188.44,406.22 L190.04,405.03 L191.65,403.85 L193.25,402.67 L194.85,401.49 L196.45,400.30 L198.06,399.12 L199.66,397.95 L201.26,396.77 L202.86,395.59 L204.46,394.42 L206.07,393.24 L207.67,392.07 L209.27,390.90 L210.87,389.72 L212.48,388.55 L214.08,387.38 L215.68,386.22 L217.28,385.05 L218.88,383.88 L220.49,382.72 L222.09,381.55 L223.69,380.39 L225.29,379.23 L226.90,378.07 L228.50,376.91 L230.10,375.75 L231.70,374.59 L233.30,373.44 L234.91,372.28 L236.51,371.13 L238.11,369.98 L239.71,368.82 L241.32,367.67 L242.92,366.53 L244.52,365.38 L246.12,364.23 L247.72,363.09 L249.33,361.94 L250.93,360.80 L252.53,359.66 L254.13,358.52 L255.74,357.38 L257.34,356.24 L258.94,355.11 L260.54,353.97 L262.15,352.84 L263.75,351.71 L265.35,350.58 L266.95,349.45 L268.55,348.32 L270.16,347.19 L271.76,346.07 L273.36,344.95 L274.96,343.83 L276.57,342.71 L278.17,341.59 L279.77,340.47 L281.37,339.36 L282.97,338.25 L284.58,337.14 L286.18,336.03 L287.78,334.92 L289.38,333.81 L290.99,332.71 L292.59,331.61 L294.19,330.51 L295.79,329.41 L297.39,328.32 L299.00,327.23 L300.60,326.14 L302.20,325.05 L303.80,323.96 L305.41,322.88 L307.01,321.80 L308.61,320.72 L310.21,319.65 L311.81,318.58 L313.42,317.51 L315.02,316.44 L316.62,315.38 L318.22,314.32 L319.83,313.26 L321.43,312.21 L323.03,311.16 L324.63,310.11 L326.24,309.06 L327.84,308.02 L329.44,306.99 L331.04,305.96 L332.64,304.93 L334.25,303.91 L335.85,302.89 L337.45,301.87 L339.05,300.86 L340.66,299.86 L342.26,298.85 L343.86,297.86 L345.46,296.87 L347.06,295.88 L348.67,294.91 L350.27,293.93 L351.87,292.97 L353.47,292.00 L355.08,291.05 L356.68,290.10 L358.28,289.16 L359.88,288.23 L361.48,287.30 L363.09,286.38 L364.69,285.47 L366.29,284.57 L367.89,283.68 L369.50,282.79 L371.10,281.92 L372.70,281.05 L374.30,280.19 L375.90,279.35 L377.51,278.51 L379.11,277.68 L380.71,276.87 L382.31,276.07 L383.92,275.28 L385.52,274.50 L387.12,273.73 L388.72,272.98 L390.33,272.24 L391.93,271.52 L393.53,270.81 L395.13,270.11 L396.73,269.43 L398.34,268.77 L399.94,268.12 L401.54,267.49 L403.14,266.88 L404.75,266.29 L406.35,265.71 L407.95,265.15 L409.55,264.62 L411.15,264.10 L412.76,263.61 L414.36,263.13 L415.96,262.68 L417.56,262.26 L419.17,261.85 L420.77,261.47 L422.37,261.12 L423.97,260.79 L425.57,260.48 L427.18,260.20 L428.78,259.95 L430.38,259.73 L431.98,259.54 L433.59,259.38 L435.19,259.24 L436.79,259.14 L438.39,259.07 L440.00,259.03 L441.60,259.02 L443.20,259.05 L444.80,259.11 L446.40,259.20 L448.01,259.33 L449.61,259.50 L451.21,259.70 L452.81,259.93 L454.42,260.21 L456.02,260.52 L457.62,260.87 L459.22,261.25 L460.82,261.68 L462.43,262.15 L464.03,262.65 L465.63,263.20 L467.23,263.78 L468.84,264.40 L470.44,265.07 L472.04,265.78 L473.64,266.52 L475.24,267.31 L476.85,268.14 L478.45,269.01 L480.05,269.92 L481.65,270.87 L483.26,271.86 L484.86,272.89 L486.46,273.96 L488.06,275.08 L489.66,276.23 L491.27,277.42 L492.87,278.66 L494.47,279.93 L496.07,281.24 L497.68,282.59 L499.28,283.98 L500.88,285.40 L502.48,286.86 L504.08,288.36 L505.69,289.90 L507.29,291.47 L508.89,293.07 L510.49,294.72 L512.10,296.39 L513.70,298.10 L515.30,299.84 L516.90,301.61 L518.51,303.42 L520.11,305.25 L521.71,307.12 L523.31,309.01 L524.91,310.94 L526.52,312.89 L528.12,314.87 L529.72,316.88 L531.32,318.91 L532.93,320.97 L534.53,323.06 L536.13,325.16 L537.73,327.30 L539.33,329.45 L540.94,331.63 L542.54,333.83 L544.14,336.05 L545.74,338.29 L547.35,340.55 L548.95,342.83 L550.55,345.13 L552.15,347.45 L553.75,349.78 L555.36,352.13 L556.96,354.50 L558.56,356.89 L560.16,359.29 L561.77,361.70 L563.37,364.13 L564.97,366.57 L566.57,369.03 L568.17,371.50 L569.78,373.98 L571.38,376.47 L572.98,378.98 L574.58,381.50 L576.19,384.03 L577.79,386.56 L579.39,389.11 L580.99,391.67 L582.60,394.24 L584.20,396.82 L585.80,399.40 L587.40,402.00 L589.00,404.60 L590.61,407.21 L592.21,409.83 L593.81,412.45 L595.41,415.09 L597.02,417.73 L598.62,420.37 L600.22,423.02 L601.82,425.68 L603.42,428.34 L605.03,431.01 L606.63,433.69 L608.23,436.37 L609.83,439.05 L611.44,441.74 L613.04,444.43 L614.64,447.13 L616.24,449.83 L617.84,452.54 L619.45,455.25 L621.05,457.96 L622.65,460.68 L624.25,463.40 L625.86,466.13 L627.46,468.86 L629.06,471.59 L630.66,474.32 L632.26,477.06 L633.87,479.79 L635.47,482.54 L637.07,485.28 L638.67,488.03 L640.28,490.78 L641.88,493.53 L643.48,496.28 L645.08,499.04 L646.69,501.79 L648.29,504.55 L649.89,507.31 L651.49,510.08" stroke="url(#g4)"/><path d="M87.50,489.66 L89.10,488.57 L90.70,487.48 L92.31,486.39 L93.91,485.30 L95.51,484.21 L97.11,483.12 L98.72,482.03 L100.32,480.95 L101.92,479.86 L103.52,478.78 L105.12,477.69 L106.73,476.61 L108.33,475.53 L109.93,474.45 L111.53,473.37 L113.14,472.29 L114.74,471.22 L116.34,470.14 L117.94,469.07 L119.55,467.99 L121.15,466.92 L122.75,465.85 L124.35,464.78 L125.95,463.71 L127.56,462.64 L129.16,461.57 L130.76,460.50 L132.36,459.44 L133.97,458.37 L135.57,457.31 L137.17,456.25 L138.77,455.19 L140.37,454.12 L141.98,453.07 L143.58,452.01 L145.18,450.95 L146.78,449.89 L148.39,448.84 L149.99,447.78 L151.59,446.73 L153.19,445.68 L154.79,444.63 L156.40,443.58 L158.00,442.53 L159.60,441.48 L161.20,440.43 L162.81,439.39 L164.41,438.34 L166.01,437.30 L167.61,436.25 L169.21,435.21 L170.82,434.17 L172.42,433.13 L174.02,432.09 L175.62,431.05 L177.23,430.02 L178.83,428.98 L180.43,427.95 L182.03,426.91 L183.63,425.88 L185.24,424.85 L186.84,423.82 L188.44,422.79 L190.04,421.76 L191.65,420.73 L193.25,419.71 L194.85,418.68 L196.45,417.66 L198.06,416.63 L199.66,415.61 L201.26,414.59 L202.86,413.57 L204.46,412.55 L206.07,411.53 L207.67,410.52 L209.27,409.50 L210.87,408.48 L212.48,407.47 L214.08,406.46 L215.68,405.45 L217.28,404.44 L218.88,403.43 L220.49,402.42 L222.09,401.41 L223.69,400.40 L225.29,399.40 L226.90,398.40 L228.50,397.39 L230.10,396.39 L231.70,395.39 L233.30,394.39 L234.91,393.39 L236.51,392.39 L238.11,391.40 L239.71,390.40 L241.32,389.41 L242.92,388.42 L244.52,387.42 L246.12,386.43 L247.72,385.44 L249.33,384.45 L250.93,383.47 L252.53,382.48 L254.13,381.50 L255.74,380.51 L257.34,379.53 L258.94,378.55 L260.54,377.57 L262.15,376.59 L263.75,375.61 L265.35,374.64 L266.95,373.66 L268.55,372.69 L270.16,371.71 L271.76,370.74 L273.36,369.77 L274.96,368.80 L276.57,367.84 L278.17,366.87 L279.77,365.91 L281.37,364.94 L282.97,363.98 L284.58,363.02 L286.18,362.06 L287.78,361.10 L289.38,360.14 L290.99,359.19 L292.59,358.24 L294.19,357.28 L295.79,356.33 L297.39,355.38 L299.00,354.44 L300.60,353.49 L302.20,352.55 L303.80,351.60 L305.41,350.66 L307.01,349.72 L308.61,348.79 L310.21,347.85 L311.81,346.92 L313.42,345.99 L315.02,345.06 L316.62,344.13 L318.22,343.20 L319.83,342.28 L321.43,341.35 L323.03,340.43 L324.63,339.52 L326.24,338.60 L327.84,337.69 L329.44,336.78 L331.04,335.87 L332.64,334.96 L334.25,334.06 L335.85,333.16 L337.45,332.26 L339.05,331.36 L340.66,330.47 L342.26,329.58 L343.86,328.69 L345.46,327.81 L347.06,326.93 L348.67,326.05 L350.27,325.17 L351.87,324.30 L353.47,323.44 L355.08,322.57 L356.68,321.71 L358.28,320.86 L359.88,320.00 L361.48,319.16 L363.09,318.31 L364.69,317.47 L366.29,316.64 L367.89,315.81 L369.50,314.99 L371.10,314.17 L372.70,313.35 L374.30,312.54 L375.90,311.74 L377.51,310.94 L379.11,310.15 L380.71,309.37 L382.31,308.59 L383.92,307.82 L385.52,307.05 L387.12,306.30 L388.72,305.55 L390.33,304.80 L391.93,304.07 L393.53,303.35 L395.13,302.63 L396.73,301.92 L398.34,301.22 L399.94,300.53 L401.54,299.86 L403.14,299.19 L404.75,298.53 L406.35,297.88 L407.95,297.25 L409.55,296.63 L411.15,296.02 L412.76,295.42 L414.36,294.84 L415.96,294.27 L417.56,293.71 L419.17,293.17 L420.77,292.65 L422.37,292.14 L423.97,291.64 L425.57,291.17 L427.18,290.71 L428.78,290.27 L430.38,289.84 L431.98,289.44 L433.59,289.06 L435.19,288.70 L436.79,288.35 L438.39,288.03 L440.00,287.74 L441.60,287.46 L443.20,287.21 L444.80,286.99 L446.40,286.79 L448.01,286.61 L449.61,286.46 L451.21,286.34 L452.81,286.25 L454.42,286.18 L456.02,286.15 L457.62,286.14 L459.22,286.17 L460.82,286.23 L462.43,286.32 L464.03,286.44 L465.63,286.59 L467.23,286.78 L468.84,287.01 L470.44,287.27 L472.04,287.56 L473.64,287.89 L475.24,288.26 L476.85,288.67 L478.45,289.11 L480.05,289.59 L481.65,290.12 L483.26,290.68 L484.86,291.28 L486.46,291.92 L488.06,292.60 L489.66,293.32 L491.27,294.08 L492.87,294.89 L494.47,295.73 L496.07,296.62 L497.68,297.54 L499.28,298.51 L500.88,299.52 L502.48,300.57 L504.08,301.67 L505.69,302.80 L507.29,303.97 L508.89,305.19 L510.49,306.45 L512.10,307.74 L513.70,309.08 L515.30,310.45 L516.90,311.87 L518.51,313.32 L520.11,314.81 L521.71,316.34 L523.31,317.91 L524.91,319.51 L526.52,321.15 L528.12,322.82 L529.72,324.53 L531.32,326.27 L532.93,328.05 L534.53,329.86 L536.13,331.70 L537.73,333.58 L539.33,335.48 L540.94,337.42 L542.54,339.38 L544.14,341.38 L545.74,343.40 L547.35,345.45 L548.95,347.52 L550.55,349.62 L552.15,351.75 L553.75,353.90 L555.36,356.08 L556.96,358.28 L558.56,360.50 L560.16,362.74 L561.77,365.01 L563.37,367.29 L564.97,369.60 L566.57,371.92 L568.17,374.26 L569.78,376.62 L571.38,379.00 L572.98,381.39 L574.58,383.81 L576.19,386.23 L577.79,388.67 L579.39,391.13 L580.99,393.60 L582.60,396.09 L584.20,398.58 L585.80,401.09 L587.40,403.61 L589.00,406.15 L590.61,408.69 L592.21,411.25 L593.81,413.82 L595.41,416.39 L597.02,418.98 L598.62,421.57 L600.22,424.18 L601.82,426.79 L603.42,429.41 L605.03,432.04 L606.63,434.68 L608.23,437.32 L609.83,439.97 L611.44,442.63 L613.04,445.30 L614.64,447.97 L616.24,450.64 L617.84,453.33 L619.45,456.01 L621.05,458.71 L622.65,461.41 L624.25,464.11 L625.86,466.82 L627.46,469.53 L629.06,472.25 L630.66,474.97 L632.26,477.69 L633.87,480.42 L635.47,483.15 L637.07,485.89 L638.67,488.63 L640.28,491.37 L641.88,494.11 L643.48,496.86 L645.08,499.61 L646.69,502.37 L648.29,505.12 L649.89,507.88 L651.49,510.64" stroke="url(#g5)"/><path d="M87.50,494.40 L89.10,493.43 L90.70,492.46 L92.31,491.50 L93.91,490.53 L95.51,489.57 L97.11,488.60 L98.72,487.64 L100.32,486.68 L101.92,485.72 L103.52,484.76 L105.12,483.80 L106.73,482.84 L108.33,481.88 L109.93,480.93 L111.53,479.97 L113.14,479.01 L114.74,478.06 L116.34,477.10 L117.94,476.15 L119.55,475.20 L121.15,474.25 L122.75,473.30 L124.35,472.35 L125.95,471.40 L127.56,470.45 L129.16,469.50 L130.76,468.55 L132.36,467.61 L133.97,466.66 L135.57,465.71 L137.17,464.77 L138.77,463.83 L140.37,462.88 L141.98,461.94 L143.58,461.00 L145.18,460.06 L146.78,459.12 L148.39,458.18 L149.99,457.25 L151.59,456.31 L153.19,455.37 L154.79,454.44 L156.40,453.50 L158.00,452.57 L159.60,451.63 L161.20,450.70 L162.81,449.77 L164.41,448.84 L166.01,447.91 L167.61,446.98 L169.21,446.05 L170.82,445.12 L172.42,444.20 L174.02,443.27 L175.62,442.34 L177.23,441.42 L178.83,440.50 L180.43,439.57 L182.03,438.65 L183.63,437.73 L185.24,436.81 L186.84,435.89 L188.44,434.97 L190.04,434.05 L191.65,433.13 L193.25,432.22 L194.85,431.30 L196.45,430.38 L198.06,429.47 L199.66,428.56 L201.26,427.64 L202.86,426.73 L204.46,425.82 L206.07,424.91 L207.67,424.00 L209.27,423.09 L210.87,422.18 L212.48,421.28 L214.08,420.37 L215.68,419.47 L217.28,418.56 L218.88,417.66 L220.49,416.75 L222.09,415.85 L223.69,414.95 L225.29,414.05 L226.90,413.15 L228.50,412.25 L230.10,411.35 L231.70,410.46 L233.30,409.56 L234.91,408.66 L236.51,407.77 L238.11,406.88 L239.71,405.98 L241.32,405.09 L242.92,404.20 L244.52,403.31 L246.12,402.42 L247.72,401.53 L249.33,400.64 L250.93,399.76 L252.53,398.87 L254.13,397.99 L255.74,397.10 L257.34,396.22 L258.94,395.34 L260.54,394.46 L262.15,393.58 L263.75,392.70 L265.35,391.82 L266.95,390.94 L268.55,390.07 L270.16,389.19 L271.76,388.32 L273.36,387.44 L274.96,386.57 L276.57,385.70 L278.17,384.83 L279.77,383.96 L281.37,383.09 L282.97,382.23 L284.58,381.36 L286.18,380.50 L287.78,379.63 L289.38,378.77 L290.99,377.91 L292.59,377.05 L294.19,376.19 L295.79,375.33 L297.39,374.48 L299.00,373.62 L300.60,372.77 L302.20,371.91 L303.80,371.06 L305.41,370.21 L307.01,369.36 L308.61,368.52 L310.21,367.67 L311.81,366.83 L313.42,365.99 L315.02,365.14 L316.62,364.30 L318.22,363.47 L319.83,362.63 L321.43,361.80 L323.03,360.96 L324.63,360.13 L326.24,359.30 L327.84,358.47 L329.44,357.65 L331.04,356.82 L332.64,356.00 L334.25,355.18 L335.85,354.36 L337.45,353.55 L339.05,352.74 L340.66,351.92 L342.26,351.12 L343.86,350.31 L345.46,349.50 L347.06,348.70 L348.67,347.90 L350.27,347.11 L351.87,346.31 L353.47,345.52 L355.08,344.73 L356.68,343.95 L358.28,343.17 L359.88,342.39 L361.48,341.61 L363.09,340.84 L364.69,340.07 L366.29,339.31 L367.89,338.55 L369.50,337.79 L371.10,337.04 L372.70,336.29 L374.30,335.54 L375.90,334.80 L377.51,334.07 L379.11,333.34 L380.71,332.61 L382.31,331.89 L383.92,331.17 L385.52,330.46 L387.12,329.76 L388.72,329.06 L390.33,328.37 L391.93,327.68 L393.53,327.00 L395.13,326.33 L396.73,325.66 L398.34,325.00 L399.94,324.35 L401.54,323.70 L403.14,323.06 L404.75,322.44 L406.35,321.82 L407.95,321.20 L409.55,320.60 L411.15,320.01 L412.76,319.42 L414.36,318.85 L415.96,318.29 L417.56,317.74 L419.17,317.19 L420.77,316.66 L422.37,316.15 L423.97,315.64 L425.57,315.15 L427.18,314.67 L428.78,314.20 L430.38,313.75 L431.98,313.31 L433.59,312.89 L435.19,312.48 L436.79,312.09 L438.39,311.71 L440.00,311.35 L441.60,311.01 L443.20,310.69 L444.80,310.38 L446.40,310.09 L448.01,309.83 L449.61,309.58 L451.21,309.36 L452.81,309.15 L454.42,308.97 L456.02,308.81 L457.62,308.67 L459.22,308.56 L460.82,308.47 L462.43,308.40 L464.03,308.36 L465.63,308.35 L467.23,308.36 L468.84,308.40 L470.44,308.47 L472.04,308.57 L473.64,308.69 L475.24,308.85 L476.85,309.04 L478.45,309.25 L480.05,309.50 L481.65,309.78 L483.26,310.09 L484.86,310.44 L486.46,310.82 L488.06,311.23 L489.66,311.68 L491.27,312.16 L492.87,312.68 L494.47,313.24 L496.07,313.83 L497.68,314.45 L499.28,315.12 L500.88,315.82 L502.48,316.55 L504.08,317.33 L505.69,318.14 L507.29,319.00 L508.89,319.89 L510.49,320.81 L512.10,321.78 L513.70,322.79 L515.30,323.83 L516.90,324.91 L518.51,326.03 L520.11,327.19 L521.71,328.39 L523.31,329.62 L524.91,330.90 L526.52,332.21 L528.12,333.56 L529.72,334.94 L531.32,336.36 L532.93,337.82 L534.53,339.32 L536.13,340.85 L537.73,342.42 L539.33,344.02 L540.94,345.65 L542.54,347.32 L544.14,349.03 L545.74,350.76 L547.35,352.53 L548.95,354.33 L550.55,356.16 L552.15,358.03 L553.75,359.92 L555.36,361.84 L556.96,363.80 L558.56,365.78 L560.16,367.78 L561.77,369.82 L563.37,371.88 L564.97,373.97 L566.57,376.08 L568.17,378.22 L569.78,380.39 L571.38,382.57 L572.98,384.78 L574.58,387.01 L576.19,389.27 L577.79,391.54 L579.39,393.83 L580.99,396.15 L582.60,398.48 L584.20,400.84 L585.80,403.21 L587.40,405.60 L589.00,408.00 L590.61,410.43 L592.21,412.86 L593.81,415.32 L595.41,417.79 L597.02,420.27 L598.62,422.77 L600.22,425.28 L601.82,427.81 L603.42,430.35 L605.03,432.90 L606.63,435.46 L608.23,438.03 L609.83,440.62 L611.44,443.21 L613.04,445.82 L614.64,448.44 L616.24,451.06 L617.84,453.70 L619.45,456.34 L621.05,458.99 L622.65,461.66 L624.25,464.32 L625.86,467.00 L627.46,469.69 L629.06,472.38 L630.66,475.08 L632.26,477.78 L633.87,480.49 L635.47,483.21 L637.07,485.93 L638.67,488.66 L640.28,491.40 L641.88,494.14 L643.48,496.89 L645.08,499.64 L646.69,502.39 L648.29,505.15 L649.89,507.91 L651.49,510.68" stroke="url(#g6)"/><path d="M87.50,497.96 L89.10,497.09 L90.70,496.21 L92.31,495.34 L93.91,494.47 L95.51,493.59 L97.11,492.72 L98.72,491.85 L100.32,490.98 L101.92,490.12 L103.52,489.25 L105.12,488.38 L106.73,487.51 L108.33,486.65 L109.93,485.78 L111.53,484.92 L113.14,484.05 L114.74,483.19 L116.34,482.33 L117.94,481.47 L119.55,480.61 L121.15,479.75 L122.75,478.89 L124.35,478.03 L125.95,477.17 L127.56,476.32 L129.16,475.46 L130.76,474.60 L132.36,473.75 L133.97,472.90 L135.57,472.04 L137.17,471.19 L138.77,470.34 L140.37,469.49 L141.98,468.64 L143.58,467.79 L145.18,466.94 L146.78,466.09 L148.39,465.24 L149.99,464.40 L151.59,463.55 L153.19,462.71 L154.79,461.86 L156.40,461.02 L158.00,460.17 L159.60,459.33 L161.20,458.49 L162.81,457.65 L164.41,456.81 L166.01,455.97 L167.61,455.13 L169.21,454.30 L170.82,453.46 L172.42,452.62 L174.02,451.79 L175.62,450.95 L177.23,450.12 L178.83,449.29 L180.43,448.45 L182.03,447.62 L183.63,446.79 L185.24,445.96 L186.84,445.13 L188.44,444.30 L190.04,443.47 L191.65,442.65 L193.25,441.82 L194.85,440.99 L196.45,440.17 L198.06,439.34 L199.66,438.52 L201.26,437.70 L202.86,436.88 L204.46,436.06 L206.07,435.23 L207.67,434.42 L209.27,433.60 L210.87,432.78 L212.48,431.96 L214.08,431.14 L215.68,430.33 L217.28,429.51 L218.88,428.70 L220.49,427.88 L222.09,427.07 L223.69,426.26 L225.29,425.45 L226.90,424.64 L228.50,423.83 L230.10,423.02 L231.70,422.21 L233.30,421.40 L234.91,420.60 L236.51,419.79 L238.11,418.99 L239.71,418.18 L241.32,417.38 L242.92,416.57 L244.52,415.77 L246.12,414.97 L247.72,414.17 L249.33,413.37 L250.93,412.57 L252.53,411.77 L254.13,410.98 L255.74,410.18 L257.34,409.38 L258.94,408.59 L260.54,407.80 L262.15,407.00 L263.75,406.21 L265.35,405.42 L266.95,404.63 L268.55,403.84 L270.16,403.05 L271.76,402.26 L273.36,401.47 L274.96,400.69 L276.57,399.90 L278.17,399.12 L279.77,398.33 L281.37,397.55 L282.97,396.77 L284.58,395.99 L286.18,395.21 L287.78,394.43 L289.38,393.65 L290.99,392.87 L292.59,392.10 L294.19,391.32 L295.79,390.55 L297.39,389.77 L299.00,389.00 L300.60,388.23 L302.20,387.46 L303.80,386.69 L305.41,385.92 L307.01,385.15 L308.61,384.39 L310.21,383.62 L311.81,382.86 L313.42,382.09 L315.02,381.33 L316.62,380.57 L318.22,379.81 L319.83,379.05 L321.43,378.29 L323.03,377.54 L324.63,376.78 L326.24,376.03 L327.84,375.28 L329.44,374.53 L331.04,373.78 L332.64,373.03 L334.25,372.28 L335.85,371.54 L337.45,370.79 L339.05,370.05 L340.66,369.31 L342.26,368.57 L343.86,367.83 L345.46,367.10 L347.06,366.36 L348.67,365.63 L350.27,364.90 L351.87,364.17 L353.47,363.44 L355.08,362.72 L356.68,362.00 L358.28,361.27 L359.88,360.56 L361.48,359.84 L363.09,359.12 L364.69,358.41 L366.29,357.70 L367.89,357.00 L369.50,356.29 L371.10,355.59 L372.70,354.89 L374.30,354.19 L375.90,353.50 L377.51,352.81 L379.11,352.12 L380.71,351.44 L382.31,350.76 L383.92,350.08 L385.52,349.41 L387.12,348.74 L388.72,348.07 L390.33,347.41 L391.93,346.75 L393.53,346.09 L395.13,345.44 L396.73,344.80 L398.34,344.16 L399.94,343.52 L401.54,342.89 L403.14,342.27 L404.75,341.65 L406.35,341.03 L407.95,340.42 L409.55,339.82 L411.15,339.23 L412.76,338.64 L414.36,338.06 L415.96,337.48 L417.56,336.91 L419.17,336.35 L420.77,335.80 L422.37,335.26 L423.97,334.72 L425.57,334.19 L427.18,333.68 L428.78,333.17 L430.38,332.67 L431.98,332.18 L433.59,331.70 L435.19,331.24 L436.79,330.78 L438.39,330.34 L440.00,329.91 L441.60,329.49 L443.20,329.09 L444.80,328.69 L446.40,328.32 L448.01,327.95 L449.61,327.61 L451.21,327.28 L452.81,326.96 L454.42,326.66 L456.02,326.38 L457.62,326.12 L459.22,325.87 L460.82,325.64 L462.43,325.44 L464.03,325.25 L465.63,325.09 L467.23,324.94 L468.84,324.82 L470.44,324.72 L472.04,324.65 L473.64,324.60 L475.24,324.57 L476.85,324.57 L478.45,324.60 L480.05,324.65 L481.65,324.73 L483.26,324.84 L484.86,324.97 L486.46,325.14 L488.06,325.34 L489.66,325.57 L491.27,325.83 L492.87,326.12 L494.47,326.44 L496.07,326.80 L497.68,327.19 L499.28,327.62 L500.88,328.08 L502.48,328.58 L504.08,329.11 L505.69,329.68 L507.29,330.29 L508.89,330.93 L510.49,331.61 L512.10,332.34 L513.70,333.09 L515.30,333.89 L516.90,334.73 L518.51,335.61 L520.11,336.52 L521.71,337.48 L523.31,338.47 L524.91,339.51 L526.52,340.58 L528.12,341.70 L529.72,342.85 L531.32,344.05 L532.93,345.28 L534.53,346.55 L536.13,347.87 L537.73,349.22 L539.33,350.61 L540.94,352.04 L542.54,353.50 L544.14,355.01 L545.74,356.55 L547.35,358.12 L548.95,359.74 L550.55,361.39 L552.15,363.07 L553.75,364.79 L555.36,366.55 L556.96,368.33 L558.56,370.15 L560.16,372.00 L561.77,373.89 L563.37,375.80 L564.97,377.75 L566.57,379.72 L568.17,381.73 L569.78,383.76 L571.38,385.82 L572.98,387.90 L574.58,390.02 L576.19,392.16 L577.79,394.32 L579.39,396.51 L580.99,398.72 L582.60,400.95 L584.20,403.21 L585.80,405.48 L587.40,407.78 L589.00,410.10 L590.61,412.44 L592.21,414.79 L593.81,417.17 L595.41,419.56 L597.02,421.97 L598.62,424.40 L600.22,426.84 L601.82,429.30 L603.42,431.78 L605.03,434.26 L606.63,436.77 L608.23,439.28 L609.83,441.81 L611.44,444.35 L613.04,446.90 L614.64,449.47 L616.24,452.04 L617.84,454.63 L619.45,457.23 L621.05,459.83 L622.65,462.45 L624.25,465.07 L625.86,467.71 L627.46,470.35 L629.06,473.00 L630.66,475.66 L632.26,478.33 L633.87,481.00 L635.47,483.68 L637.07,486.37 L638.67,489.06 L640.28,491.76 L641.88,494.47 L643.48,497.18 L645.08,499.89 L646.69,502.62 L648.29,505.34 L649.89,508.08 L651.49,510.81" stroke="url(#g7)"/></g>
<rect x="59.5" y="70.5" width="620" height="462" fill="none" stroke="#000" stroke-width="1.1"/>
<g stroke="#000" stroke-width="1.1"><line x1="87.50" y1="532" x2="87.50" y2="537.8"/><line x1="311.81" y1="532" x2="311.81" y2="537.8"/><line x1="343.86" y1="532" x2="343.86" y2="537.8"/><line x1="375.90" y1="532" x2="375.90" y2="537.8"/><line x1="407.95" y1="532" x2="407.95" y2="537.8"/><line x1="440.00" y1="532" x2="440.00" y2="537.8"/><line x1="472.04" y1="532" x2="472.04" y2="537.8"/><line x1="651.49" y1="532" x2="651.49" y2="537.8"/><line x1="54.1" y1="473.50" x2="59.5" y2="473.50"/><line x1="54.1" y1="413.50" x2="59.5" y2="413.50"/><line x1="54.1" y1="353.50" x2="59.5" y2="353.50"/><line x1="54.1" y1="293.50" x2="59.5" y2="293.50"/><line x1="54.1" y1="233.50" x2="59.5" y2="233.50"/><line x1="54.1" y1="173.50" x2="59.5" y2="173.50"/><line x1="54.1" y1="113.50" x2="59.5" y2="113.50"/></g>
<g class="gs" font-size="14.2" fill="#000"><text transform="translate(87.50,552.60) scale(1.0300,1)" text-anchor="middle">10</text><text transform="translate(311.81,552.60) scale(1.0300,1)" text-anchor="middle">45</text><text transform="translate(343.86,552.60) scale(1.0300,1)" text-anchor="middle">50</text><text transform="translate(375.90,552.60) scale(1.0300,1)" text-anchor="middle">55</text><text transform="translate(407.95,552.60) scale(1.0300,1)" text-anchor="middle">60</text><text transform="translate(440.00,552.60) scale(1.0300,1)" text-anchor="middle">65</text><text transform="translate(472.04,552.60) scale(1.0300,1)" text-anchor="middle">70</text><text transform="translate(651.49,552.60) scale(1.0300,1)" text-anchor="middle">98</text><text transform="translate(48.90,478.60) scale(1.0800,1)" text-anchor="end">0.025</text><text transform="translate(48.90,418.60) scale(1.0800,1)" text-anchor="end">0.050</text><text transform="translate(48.90,358.60) scale(1.0800,1)" text-anchor="end">0.075</text><text transform="translate(48.90,298.60) scale(1.0800,1)" text-anchor="end">0.100</text><text transform="translate(48.90,238.60) scale(1.0800,1)" text-anchor="end">0.125</text><text transform="translate(48.90,178.60) scale(1.0800,1)" text-anchor="end">0.150</text><text transform="translate(48.90,118.60) scale(1.0800,1)" text-anchor="end">0.175</text><text transform="translate(369.30,572.00) scale(1.0950,1)" text-anchor="middle">Lightness (%)</text></g>
<g class="gs" fill="#000"><text transform="translate(282.50,26.80) scale(1.0000,1)" font-size="17.2" font-style="italic">C</text><text transform="translate(297.50,24.20)" font-size="17.5">*</text><text transform="translate(311.00,26.80) scale(1.1070,1)" font-size="17.2">curves (v1.5.1)</text></g>
</svg>
</body></html>
